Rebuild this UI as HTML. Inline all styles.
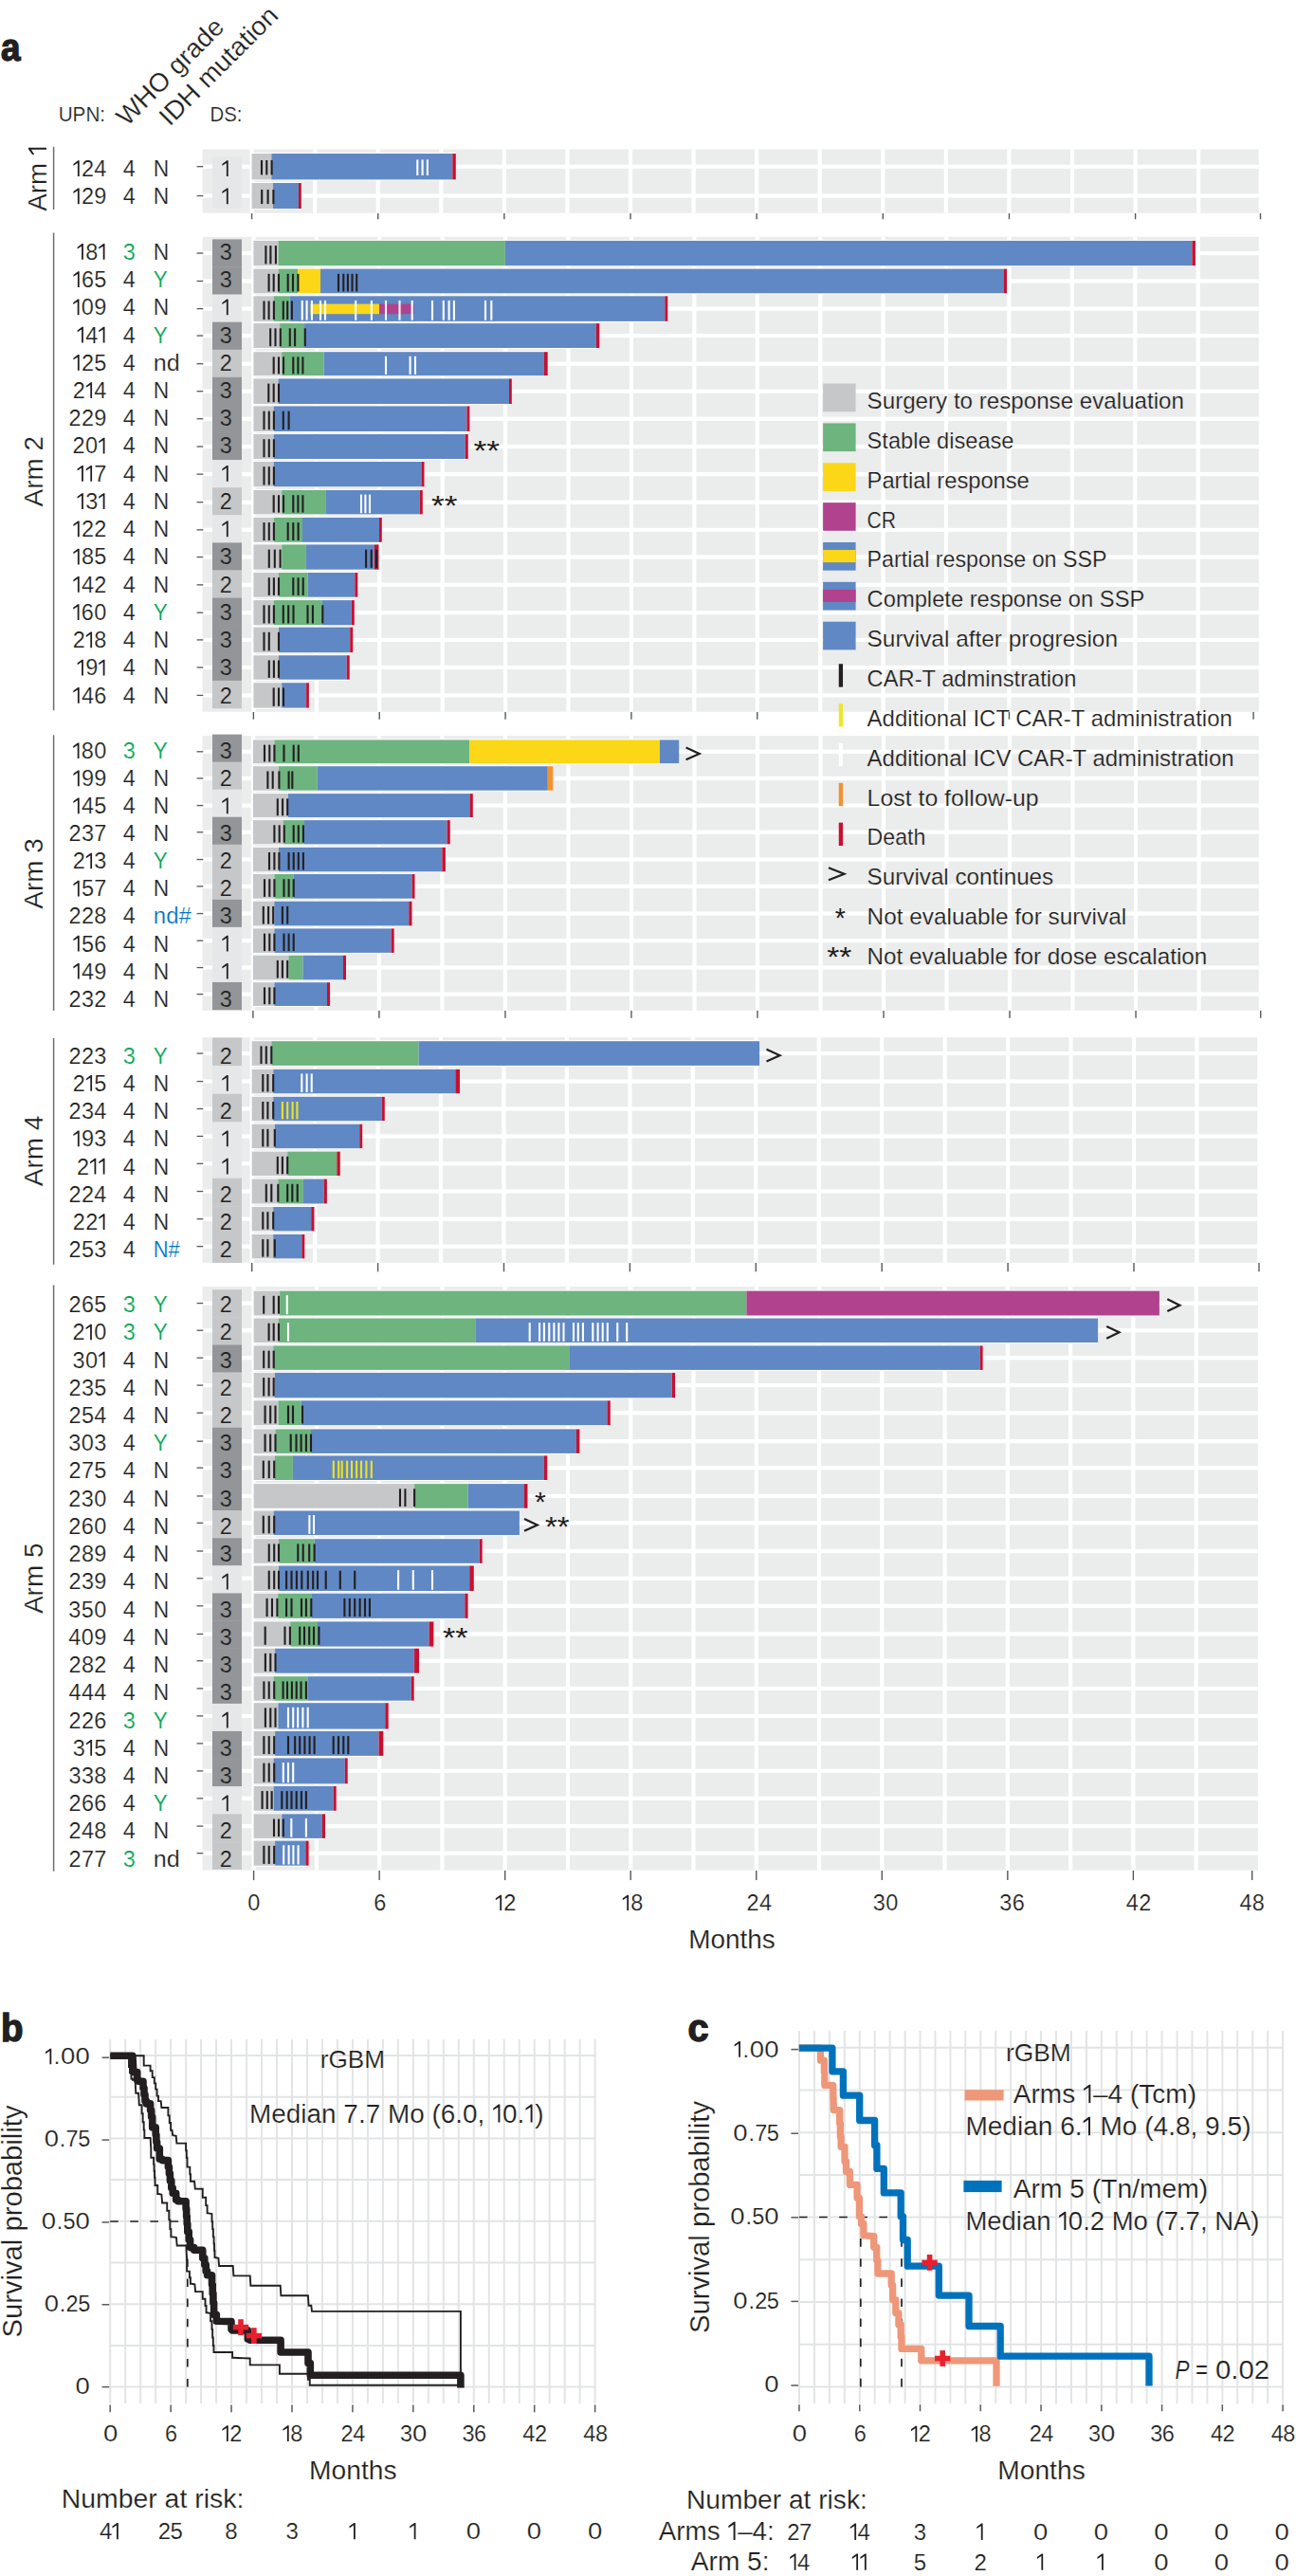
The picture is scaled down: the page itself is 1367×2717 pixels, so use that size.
<!DOCTYPE html><html><head><meta charset="utf-8"><style>html,body{margin:0;padding:0;background:#fff;}svg{display:block;} text{stroke:#fff;stroke-width:.2px} .g{stroke:#EBECEC} .d1{stroke:#E6E7E8} .d2{stroke:#C6C7C9} .d3{stroke:#939598} .n{stroke:none}</style></head><body>
<svg width="1367" height="2717" viewBox="0 0 1367 2717" font-family='"Liberation Sans", sans-serif' font-size="22" fill="#231F20">
<rect width="1367" height="2717" fill="#fff"/>
<text x="1" y="64" textLength="20.5" lengthAdjust="spacingAndGlyphs" font-weight="bold" font-size="40" style="stroke:#231F20;stroke-width:1.4px">a</text>
<text x="61.7" y="127.9" textLength="49.4" lengthAdjust="spacingAndGlyphs" font-size="21.5">UPN:</text>
<text x="221.5" y="127.9" textLength="34" lengthAdjust="spacingAndGlyphs" font-size="21.5">DS:</text>
<text x="134" y="134" font-size="27.5" transform="rotate(-45 134 134)" textLength="147" lengthAdjust="spacingAndGlyphs">WHO grade</text>
<text x="179" y="134" font-size="27.5" transform="rotate(-45 179 134)" textLength="164" lengthAdjust="spacingAndGlyphs">IDH mutation</text>
<rect x="213.6" y="157.5" width="1114.1" height="67.2" fill="#EBECEC"/>
<rect x="263.5" y="157.5" width="4.2" height="67.2" fill="#fff"/>
<rect x="330.07" y="157.5" width="4.2" height="67.2" fill="#fff"/>
<rect x="396.64" y="157.5" width="4.2" height="67.2" fill="#fff"/>
<rect x="463.21" y="157.5" width="4.2" height="67.2" fill="#fff"/>
<rect x="529.78" y="157.5" width="4.2" height="67.2" fill="#fff"/>
<rect x="596.35" y="157.5" width="4.2" height="67.2" fill="#fff"/>
<rect x="662.92" y="157.5" width="4.2" height="67.2" fill="#fff"/>
<rect x="729.49" y="157.5" width="4.2" height="67.2" fill="#fff"/>
<rect x="796.06" y="157.5" width="4.2" height="67.2" fill="#fff"/>
<rect x="862.63" y="157.5" width="4.2" height="67.2" fill="#fff"/>
<rect x="929.2" y="157.5" width="4.2" height="67.2" fill="#fff"/>
<rect x="995.77" y="157.5" width="4.2" height="67.2" fill="#fff"/>
<rect x="1062.34" y="157.5" width="4.2" height="67.2" fill="#fff"/>
<rect x="1128.91" y="157.5" width="4.2" height="67.2" fill="#fff"/>
<rect x="1195.48" y="157.5" width="4.2" height="67.2" fill="#fff"/>
<rect x="1262.05" y="157.5" width="4.2" height="67.2" fill="#fff"/>
<rect x="213.6" y="173.6" width="1114.1" height="4.2" fill="#fff"/>
<rect x="213.6" y="204.45" width="1114.1" height="4.2" fill="#fff"/>
<rect x="224" y="165.4" width="31" height="54.4" fill="#E6E7E8"/>
<path d="M83.7 186L83.7 169.3L82.3 169.3L77.4 172.9L77.4 174.8L81.9 171.9L81.9 186Z"/>
<text x="92.5" y="186" font-size="23.5" text-anchor="middle">2</text>
<text x="105.9" y="186" font-size="23.5" text-anchor="middle">4</text>
<text x="136.2" y="186" font-size="23.5" text-anchor="middle">4</text>
<text x="161.8" y="186" textLength="16.5" lengthAdjust="spacingAndGlyphs" font-size="23">N</text>
<path d="M240.7 186L240.7 169.3L239.3 169.3L234.4 172.9L234.4 174.8L238.9 171.9L238.9 186Z"/>
<line x1="207.6" y1="175.7" x2="214.3" y2="175.7" stroke="#58595B" stroke-width="1.3"/>
<path d="M83.7 215.2L83.7 198.5L82.3 198.5L77.4 202.1L77.4 204L81.9 201.1L81.9 215.2Z"/>
<text x="92.5" y="215.2" font-size="23.5" text-anchor="middle">2</text>
<text x="105.9" y="215.2" font-size="23.5" text-anchor="middle">9</text>
<text x="136.2" y="215.2" font-size="23.5" text-anchor="middle">4</text>
<text x="161.8" y="215.2" textLength="16.5" lengthAdjust="spacingAndGlyphs" font-size="23">N</text>
<path d="M240.7 215.2L240.7 198.5L239.3 198.5L234.4 202.1L234.4 204L238.9 201.1L238.9 215.2Z"/>
<line x1="207.6" y1="206.55" x2="214.3" y2="206.55" stroke="#58595B" stroke-width="1.3"/>
<g transform="translate(49 188) rotate(-90)">
<text x="-34.75" y="0" font-size="27" textLength="58.66" lengthAdjust="spacingAndGlyphs" xml:space="preserve">Arm </text>
<path d="M32.14 0L32.14 -19.06L30.63 -19.06L24.96 -14.93L24.96 -12.74L30.19 -16.09L30.19 0Z"/>
</g>
<line x1="56.6" y1="154.8" x2="56.6" y2="221" stroke="#6D6E71" stroke-width="1.5"/>
<rect x="265.6" y="161" width="215.2" height="29.4" fill="#fff"/>
<rect x="265.6" y="192" width="52.2" height="29.1" fill="#fff"/>
<rect x="265.6" y="162" width="20.7" height="27.4" fill="#C6C7C9"/>
<rect x="286.3" y="162" width="191" height="27.4" fill="#6088C4"/>
<rect x="477.3" y="162" width="3.5" height="27.4" fill="#C8102E"/>
<line x1="276" y1="169" x2="276" y2="184.4" stroke="#231F20" stroke-width="2.1"/>
<line x1="281.3" y1="169" x2="281.3" y2="184.4" stroke="#231F20" stroke-width="2.1"/>
<line x1="286.6" y1="169" x2="286.6" y2="184.4" stroke="#231F20" stroke-width="2.1"/>
<line x1="440.3" y1="168.4" x2="440.3" y2="185" stroke="#fff" stroke-width="2.1"/>
<line x1="445.6" y1="168.4" x2="445.6" y2="185" stroke="#fff" stroke-width="2.1"/>
<line x1="450.9" y1="168.4" x2="450.9" y2="185" stroke="#fff" stroke-width="2.1"/>
<rect x="265.6" y="193" width="22.4" height="27.1" fill="#C6C7C9"/>
<rect x="288" y="193" width="27" height="27.1" fill="#6088C4"/>
<rect x="315" y="193" width="2.8" height="27.1" fill="#C8102E"/>
<line x1="276.2" y1="200" x2="276.2" y2="215.1" stroke="#231F20" stroke-width="2.1"/>
<line x1="282.6" y1="200" x2="282.6" y2="215.1" stroke="#231F20" stroke-width="2.1"/>
<line x1="288.4" y1="200" x2="288.4" y2="215.1" stroke="#231F20" stroke-width="2.1"/>
<line x1="265.6" y1="225" x2="265.6" y2="231.2" stroke="#58595B" stroke-width="1.4"/>
<line x1="398.74" y1="225" x2="398.74" y2="231.2" stroke="#58595B" stroke-width="1.4"/>
<line x1="531.88" y1="225" x2="531.88" y2="231.2" stroke="#58595B" stroke-width="1.4"/>
<line x1="665.02" y1="225" x2="665.02" y2="231.2" stroke="#58595B" stroke-width="1.4"/>
<line x1="798.16" y1="225" x2="798.16" y2="231.2" stroke="#58595B" stroke-width="1.4"/>
<line x1="931.3" y1="225" x2="931.3" y2="231.2" stroke="#58595B" stroke-width="1.4"/>
<line x1="1064.44" y1="225" x2="1064.44" y2="231.2" stroke="#58595B" stroke-width="1.4"/>
<line x1="1197.58" y1="225" x2="1197.58" y2="231.2" stroke="#58595B" stroke-width="1.4"/>
<line x1="1329.5" y1="225" x2="1329.5" y2="231.2" stroke="#58595B" stroke-width="1.4"/>
<rect x="213.6" y="249.8" width="1114.2" height="500.9" fill="#EBECEC"/>
<rect x="265.3" y="249.8" width="4.2" height="500.9" fill="#fff"/>
<rect x="331.72" y="249.8" width="4.2" height="500.9" fill="#fff"/>
<rect x="398.14" y="249.8" width="4.2" height="500.9" fill="#fff"/>
<rect x="464.56" y="249.8" width="4.2" height="500.9" fill="#fff"/>
<rect x="530.98" y="249.8" width="4.2" height="500.9" fill="#fff"/>
<rect x="597.4" y="249.8" width="4.2" height="500.9" fill="#fff"/>
<rect x="663.82" y="249.8" width="4.2" height="500.9" fill="#fff"/>
<rect x="730.24" y="249.8" width="4.2" height="500.9" fill="#fff"/>
<rect x="796.66" y="249.8" width="4.2" height="500.9" fill="#fff"/>
<rect x="863.08" y="249.8" width="4.2" height="500.9" fill="#fff"/>
<rect x="929.5" y="249.8" width="4.2" height="500.9" fill="#fff"/>
<rect x="995.92" y="249.8" width="4.2" height="500.9" fill="#fff"/>
<rect x="1062.34" y="249.8" width="4.2" height="500.9" fill="#fff"/>
<rect x="1128.76" y="249.8" width="4.2" height="500.9" fill="#fff"/>
<rect x="1195.18" y="249.8" width="4.2" height="500.9" fill="#fff"/>
<rect x="1261.6" y="249.8" width="4.2" height="500.9" fill="#fff"/>
<rect x="213.6" y="264.95" width="1114.2" height="4.2" fill="#fff"/>
<rect x="213.6" y="294.35" width="1114.2" height="4.2" fill="#fff"/>
<rect x="213.6" y="323.5" width="1114.2" height="4.2" fill="#fff"/>
<rect x="213.6" y="351.95" width="1114.2" height="4.2" fill="#fff"/>
<rect x="213.6" y="381.6" width="1114.2" height="4.2" fill="#fff"/>
<rect x="213.6" y="410.6" width="1114.2" height="4.2" fill="#fff"/>
<rect x="213.6" y="439.6" width="1114.2" height="4.2" fill="#fff"/>
<rect x="213.6" y="468.9" width="1114.2" height="4.2" fill="#fff"/>
<rect x="213.6" y="498.05" width="1114.2" height="4.2" fill="#fff"/>
<rect x="213.6" y="527.6" width="1114.2" height="4.2" fill="#fff"/>
<rect x="213.6" y="556.75" width="1114.2" height="4.2" fill="#fff"/>
<rect x="213.6" y="585.45" width="1114.2" height="4.2" fill="#fff"/>
<rect x="213.6" y="614.75" width="1114.2" height="4.2" fill="#fff"/>
<rect x="213.6" y="644.1" width="1114.2" height="4.2" fill="#fff"/>
<rect x="213.6" y="672.8" width="1114.2" height="4.2" fill="#fff"/>
<rect x="213.6" y="701.88" width="1114.2" height="4.2" fill="#fff"/>
<rect x="213.6" y="731.3" width="1114.2" height="4.2" fill="#fff"/>
<rect x="224" y="252.4" width="31" height="29.39" fill="#939598"/>
<rect x="224" y="281.49" width="31" height="29.39" fill="#939598"/>
<rect x="224" y="310.58" width="31" height="29.39" fill="#E6E7E8"/>
<rect x="224" y="339.67" width="31" height="29.39" fill="#939598"/>
<rect x="224" y="368.76" width="31" height="29.39" fill="#C6C7C9"/>
<rect x="224" y="397.85" width="31" height="29.39" fill="#939598"/>
<rect x="224" y="426.94" width="31" height="29.39" fill="#939598"/>
<rect x="224" y="456.03" width="31" height="29.39" fill="#939598"/>
<rect x="224" y="485.12" width="31" height="29.39" fill="#E6E7E8"/>
<rect x="224" y="514.21" width="31" height="29.39" fill="#C6C7C9"/>
<rect x="224" y="543.3" width="31" height="29.39" fill="#E6E7E8"/>
<rect x="224" y="572.39" width="31" height="29.39" fill="#939598"/>
<rect x="224" y="601.48" width="31" height="29.39" fill="#C6C7C9"/>
<rect x="224" y="630.57" width="31" height="29.39" fill="#939598"/>
<rect x="224" y="659.66" width="31" height="29.39" fill="#939598"/>
<rect x="224" y="688.75" width="31" height="29.39" fill="#939598"/>
<rect x="224" y="717.84" width="31" height="29.39" fill="#C6C7C9"/>
<path d="M87.9 273.8L87.9 257.1L86.5 257.1L81.6 260.7L81.6 262.6L86.1 259.7L86.1 273.8Z"/>
<text x="96.7" y="273.8" font-size="23.5" text-anchor="middle">8</text>
<path d="M110.5 273.8L110.5 257.1L109.1 257.1L104.2 260.7L104.2 262.6L108.7 259.7L108.7 273.8Z"/>
<text x="136.2" y="273.8" font-size="23.5" text-anchor="middle" fill="#00A651">3</text>
<text x="161.8" y="273.8" textLength="16.5" lengthAdjust="spacingAndGlyphs" font-size="23">N</text>
<text x="238.2" y="273.8" font-size="23.5" text-anchor="middle" class="d3">3</text>
<line x1="207.6" y1="267.05" x2="214.3" y2="267.05" stroke="#58595B" stroke-width="1.3"/>
<path d="M83.7 303.04L83.7 286.34L82.3 286.34L77.4 289.94L77.4 291.84L81.9 288.94L81.9 303.04Z"/>
<text x="92.5" y="303.04" font-size="23.5" text-anchor="middle">6</text>
<text x="105.9" y="303.04" font-size="23.5" text-anchor="middle">5</text>
<text x="136.2" y="303.04" font-size="23.5" text-anchor="middle">4</text>
<text x="161.8" y="303.04" textLength="15" lengthAdjust="spacingAndGlyphs" fill="#00A651" font-size="23">Y</text>
<text x="238.2" y="303.04" font-size="23.5" text-anchor="middle" class="d3">3</text>
<line x1="207.6" y1="296.45" x2="214.3" y2="296.45" stroke="#58595B" stroke-width="1.3"/>
<path d="M83.5 332.28L83.5 315.58L82.1 315.58L77.2 319.18L77.2 321.08L81.7 318.18L81.7 332.28Z"/>
<text x="92.4" y="332.28" font-size="23.5" text-anchor="middle">0</text>
<text x="105.9" y="332.28" font-size="23.5" text-anchor="middle">9</text>
<text x="136.2" y="332.28" font-size="23.5" text-anchor="middle">4</text>
<text x="161.8" y="332.28" textLength="16.5" lengthAdjust="spacingAndGlyphs" font-size="23">N</text>
<path d="M240.7 332.28L240.7 315.58L239.3 315.58L234.4 319.18L234.4 321.08L238.9 318.18L238.9 332.28Z"/>
<line x1="207.6" y1="325.6" x2="214.3" y2="325.6" stroke="#58595B" stroke-width="1.3"/>
<path d="M87.9 361.52L87.9 344.82L86.5 344.82L81.6 348.42L81.6 350.32L86.1 347.42L86.1 361.52Z"/>
<text x="96.7" y="361.52" font-size="23.5" text-anchor="middle">4</text>
<path d="M110.5 361.52L110.5 344.82L109.1 344.82L104.2 348.42L104.2 350.32L108.7 347.42L108.7 361.52Z"/>
<text x="136.2" y="361.52" font-size="23.5" text-anchor="middle">4</text>
<text x="161.8" y="361.52" textLength="15" lengthAdjust="spacingAndGlyphs" fill="#00A651" font-size="23">Y</text>
<text x="238.2" y="361.52" font-size="23.5" text-anchor="middle" class="d3">3</text>
<line x1="207.6" y1="354.05" x2="214.3" y2="354.05" stroke="#58595B" stroke-width="1.3"/>
<path d="M83.7 390.76L83.7 374.06L82.3 374.06L77.4 377.66L77.4 379.56L81.9 376.66L81.9 390.76Z"/>
<text x="92.5" y="390.76" font-size="23.5" text-anchor="middle">2</text>
<text x="105.9" y="390.76" font-size="23.5" text-anchor="middle">5</text>
<text x="136.2" y="390.76" font-size="23.5" text-anchor="middle">4</text>
<text x="161.8" y="390.76" textLength="28" lengthAdjust="spacingAndGlyphs" font-size="23">nd</text>
<text x="238.2" y="390.76" font-size="23.5" text-anchor="middle" class="d2">2</text>
<line x1="207.6" y1="383.7" x2="214.3" y2="383.7" stroke="#58595B" stroke-width="1.3"/>
<text x="83.3" y="420" font-size="23.5" text-anchor="middle">2</text>
<path d="M97.1 420L97.1 403.3L95.7 403.3L90.8 406.9L90.8 408.8L95.3 405.9L95.3 420Z"/>
<text x="105.9" y="420" font-size="23.5" text-anchor="middle">4</text>
<text x="136.2" y="420" font-size="23.5" text-anchor="middle">4</text>
<text x="161.8" y="420" textLength="16.5" lengthAdjust="spacingAndGlyphs" font-size="23">N</text>
<text x="238.2" y="420" font-size="23.5" text-anchor="middle" class="d3">3</text>
<line x1="207.6" y1="412.7" x2="214.3" y2="412.7" stroke="#58595B" stroke-width="1.3"/>
<text x="79.1" y="449.24" font-size="23.5" text-anchor="middle">2</text>
<text x="92.5" y="449.24" font-size="23.5" text-anchor="middle">2</text>
<text x="105.9" y="449.24" font-size="23.5" text-anchor="middle">9</text>
<text x="136.2" y="449.24" font-size="23.5" text-anchor="middle">4</text>
<text x="161.8" y="449.24" textLength="16.5" lengthAdjust="spacingAndGlyphs" font-size="23">N</text>
<text x="238.2" y="449.24" font-size="23.5" text-anchor="middle" class="d3">3</text>
<line x1="207.6" y1="441.7" x2="214.3" y2="441.7" stroke="#58595B" stroke-width="1.3"/>
<text x="83.1" y="478.48" font-size="23.5" text-anchor="middle">2</text>
<text x="96.6" y="478.48" font-size="23.5" text-anchor="middle">0</text>
<path d="M110.5 478.48L110.5 461.78L109.1 461.78L104.2 465.38L104.2 467.28L108.7 464.38L108.7 478.48Z"/>
<text x="136.2" y="478.48" font-size="23.5" text-anchor="middle">4</text>
<text x="161.8" y="478.48" textLength="16.5" lengthAdjust="spacingAndGlyphs" font-size="23">N</text>
<text x="238.2" y="478.48" font-size="23.5" text-anchor="middle" class="d3">3</text>
<line x1="207.6" y1="471" x2="214.3" y2="471" stroke="#58595B" stroke-width="1.3"/>
<path d="M87.9 507.72L87.9 491.02L86.5 491.02L81.6 494.62L81.6 496.52L86.1 493.62L86.1 507.72Z"/>
<path d="M97.1 507.72L97.1 491.02L95.7 491.02L90.8 494.62L90.8 496.52L95.3 493.62L95.3 507.72Z"/>
<text x="105.9" y="507.72" font-size="23.5" text-anchor="middle">7</text>
<text x="136.2" y="507.72" font-size="23.5" text-anchor="middle">4</text>
<text x="161.8" y="507.72" textLength="16.5" lengthAdjust="spacingAndGlyphs" font-size="23">N</text>
<path d="M240.7 507.72L240.7 491.02L239.3 491.02L234.4 494.62L234.4 496.52L238.9 493.62L238.9 507.72Z"/>
<line x1="207.6" y1="500.15" x2="214.3" y2="500.15" stroke="#58595B" stroke-width="1.3"/>
<path d="M87.9 536.96L87.9 520.26L86.5 520.26L81.6 523.86L81.6 525.76L86.1 522.86L86.1 536.96Z"/>
<text x="96.7" y="536.96" font-size="23.5" text-anchor="middle">3</text>
<path d="M110.5 536.96L110.5 520.26L109.1 520.26L104.2 523.86L104.2 525.76L108.7 522.86L108.7 536.96Z"/>
<text x="136.2" y="536.96" font-size="23.5" text-anchor="middle">4</text>
<text x="161.8" y="536.96" textLength="16.5" lengthAdjust="spacingAndGlyphs" font-size="23">N</text>
<text x="238.2" y="536.96" font-size="23.5" text-anchor="middle" class="d2">2</text>
<line x1="207.6" y1="529.7" x2="214.3" y2="529.7" stroke="#58595B" stroke-width="1.3"/>
<path d="M83.7 566.2L83.7 549.5L82.3 549.5L77.4 553.1L77.4 555L81.9 552.1L81.9 566.2Z"/>
<text x="92.5" y="566.2" font-size="23.5" text-anchor="middle">2</text>
<text x="105.9" y="566.2" font-size="23.5" text-anchor="middle">2</text>
<text x="136.2" y="566.2" font-size="23.5" text-anchor="middle">4</text>
<text x="161.8" y="566.2" textLength="16.5" lengthAdjust="spacingAndGlyphs" font-size="23">N</text>
<path d="M240.7 566.2L240.7 549.5L239.3 549.5L234.4 553.1L234.4 555L238.9 552.1L238.9 566.2Z"/>
<line x1="207.6" y1="558.85" x2="214.3" y2="558.85" stroke="#58595B" stroke-width="1.3"/>
<path d="M83.7 595.44L83.7 578.74L82.3 578.74L77.4 582.34L77.4 584.24L81.9 581.34L81.9 595.44Z"/>
<text x="92.5" y="595.44" font-size="23.5" text-anchor="middle">8</text>
<text x="105.9" y="595.44" font-size="23.5" text-anchor="middle">5</text>
<text x="136.2" y="595.44" font-size="23.5" text-anchor="middle">4</text>
<text x="161.8" y="595.44" textLength="16.5" lengthAdjust="spacingAndGlyphs" font-size="23">N</text>
<text x="238.2" y="595.44" font-size="23.5" text-anchor="middle" class="d3">3</text>
<line x1="207.6" y1="587.55" x2="214.3" y2="587.55" stroke="#58595B" stroke-width="1.3"/>
<path d="M83.7 624.68L83.7 607.98L82.3 607.98L77.4 611.58L77.4 613.48L81.9 610.58L81.9 624.68Z"/>
<text x="92.5" y="624.68" font-size="23.5" text-anchor="middle">4</text>
<text x="105.9" y="624.68" font-size="23.5" text-anchor="middle">2</text>
<text x="136.2" y="624.68" font-size="23.5" text-anchor="middle">4</text>
<text x="161.8" y="624.68" textLength="16.5" lengthAdjust="spacingAndGlyphs" font-size="23">N</text>
<text x="238.2" y="624.68" font-size="23.5" text-anchor="middle" class="d2">2</text>
<line x1="207.6" y1="616.85" x2="214.3" y2="616.85" stroke="#58595B" stroke-width="1.3"/>
<path d="M83.5 653.92L83.5 637.22L82.1 637.22L77.2 640.82L77.2 642.72L81.7 639.82L81.7 653.92Z"/>
<text x="92.3" y="653.92" font-size="23.5" text-anchor="middle">6</text>
<text x="105.8" y="653.92" font-size="23.5" text-anchor="middle">0</text>
<text x="136.2" y="653.92" font-size="23.5" text-anchor="middle">4</text>
<text x="161.8" y="653.92" textLength="15" lengthAdjust="spacingAndGlyphs" fill="#00A651" font-size="23">Y</text>
<text x="238.2" y="653.92" font-size="23.5" text-anchor="middle" class="d3">3</text>
<line x1="207.6" y1="646.2" x2="214.3" y2="646.2" stroke="#58595B" stroke-width="1.3"/>
<text x="83.3" y="683.16" font-size="23.5" text-anchor="middle">2</text>
<path d="M97.1 683.16L97.1 666.46L95.7 666.46L90.8 670.06L90.8 671.96L95.3 669.06L95.3 683.16Z"/>
<text x="105.9" y="683.16" font-size="23.5" text-anchor="middle">8</text>
<text x="136.2" y="683.16" font-size="23.5" text-anchor="middle">4</text>
<text x="161.8" y="683.16" textLength="16.5" lengthAdjust="spacingAndGlyphs" font-size="23">N</text>
<text x="238.2" y="683.16" font-size="23.5" text-anchor="middle" class="d3">3</text>
<line x1="207.6" y1="674.9" x2="214.3" y2="674.9" stroke="#58595B" stroke-width="1.3"/>
<path d="M87.9 712.4L87.9 695.7L86.5 695.7L81.6 699.3L81.6 701.2L86.1 698.3L86.1 712.4Z"/>
<text x="96.7" y="712.4" font-size="23.5" text-anchor="middle">9</text>
<path d="M110.5 712.4L110.5 695.7L109.1 695.7L104.2 699.3L104.2 701.2L108.7 698.3L108.7 712.4Z"/>
<text x="136.2" y="712.4" font-size="23.5" text-anchor="middle">4</text>
<text x="161.8" y="712.4" textLength="16.5" lengthAdjust="spacingAndGlyphs" font-size="23">N</text>
<text x="238.2" y="712.4" font-size="23.5" text-anchor="middle" class="d3">3</text>
<line x1="207.6" y1="703.98" x2="214.3" y2="703.98" stroke="#58595B" stroke-width="1.3"/>
<path d="M83.7 741.64L83.7 724.94L82.3 724.94L77.4 728.54L77.4 730.44L81.9 727.54L81.9 741.64Z"/>
<text x="92.5" y="741.64" font-size="23.5" text-anchor="middle">4</text>
<text x="105.9" y="741.64" font-size="23.5" text-anchor="middle">6</text>
<text x="136.2" y="741.64" font-size="23.5" text-anchor="middle">4</text>
<text x="161.8" y="741.64" textLength="16.5" lengthAdjust="spacingAndGlyphs" font-size="23">N</text>
<text x="238.2" y="741.64" font-size="23.5" text-anchor="middle" class="d2">2</text>
<line x1="207.6" y1="733.4" x2="214.3" y2="733.4" stroke="#58595B" stroke-width="1.3"/>
<g transform="translate(45.4 497.2) rotate(-90)">
<text x="-37.25" y="0" font-size="27" textLength="74.5" lengthAdjust="spacingAndGlyphs" xml:space="preserve">Arm 2</text>
</g>
<line x1="56.6" y1="245.5" x2="56.6" y2="749.3" stroke="#6D6E71" stroke-width="1.5"/>
<rect x="267.4" y="252.9" width="993.5" height="28.3" fill="#fff"/>
<rect x="267.4" y="282.6" width="794.6" height="27.7" fill="#fff"/>
<rect x="267.4" y="311.3" width="436.9" height="28.6" fill="#fff"/>
<rect x="267.4" y="340.1" width="364.9" height="27.9" fill="#fff"/>
<rect x="267.4" y="370.2" width="310.3" height="27" fill="#fff"/>
<rect x="267.4" y="398.4" width="272.4" height="28.6" fill="#fff"/>
<rect x="267.4" y="427.4" width="228" height="28.6" fill="#fff"/>
<rect x="267.4" y="457" width="226.35" height="28" fill="#fff"/>
<rect x="267.4" y="486" width="180.1" height="28.3" fill="#fff"/>
<rect x="267.4" y="516" width="178.4" height="27.4" fill="#fff"/>
<rect x="267.4" y="544.9" width="135.4" height="27.9" fill="#fff"/>
<rect x="267.4" y="573.4" width="132.1" height="28.3" fill="#fff"/>
<rect x="267.4" y="603" width="109.9" height="27.7" fill="#fff"/>
<rect x="267.4" y="632.1" width="106.4" height="28.2" fill="#fff"/>
<rect x="267.4" y="660.6" width="104.8" height="28.6" fill="#fff"/>
<rect x="267.4" y="690.25" width="101.35" height="27.45" fill="#fff"/>
<rect x="267.4" y="719.2" width="58.5" height="28.4" fill="#fff"/>
<rect x="267.4" y="253.9" width="26.1" height="26.3" fill="#C6C7C9"/>
<rect x="293.5" y="253.9" width="239.4" height="26.3" fill="#6DB47E"/>
<rect x="532.9" y="253.9" width="724.5" height="26.3" fill="#6088C4"/>
<rect x="1257.4" y="253.9" width="3.5" height="26.3" fill="#C8102E"/>
<line x1="280.4" y1="259.1" x2="280.4" y2="278.4" stroke="#231F20" stroke-width="2.1"/>
<line x1="285.4" y1="259.1" x2="285.4" y2="278.4" stroke="#231F20" stroke-width="2.1"/>
<line x1="290.9" y1="259.1" x2="290.9" y2="278.4" stroke="#231F20" stroke-width="2.1"/>
<rect x="267.4" y="283.6" width="26.1" height="25.7" fill="#C6C7C9"/>
<rect x="293.5" y="283.6" width="20.6" height="25.7" fill="#6DB47E"/>
<rect x="314.1" y="283.6" width="23.9" height="25.7" fill="#FBD717"/>
<rect x="338" y="283.6" width="721" height="25.7" fill="#6088C4"/>
<rect x="1059" y="283.6" width="3" height="25.7" fill="#C8102E"/>
<line x1="283.6" y1="288.8" x2="283.6" y2="307.5" stroke="#231F20" stroke-width="2.1"/>
<line x1="288.7" y1="288.8" x2="288.7" y2="307.5" stroke="#231F20" stroke-width="2.1"/>
<line x1="294" y1="288.8" x2="294" y2="307.5" stroke="#231F20" stroke-width="2.1"/>
<line x1="303.7" y1="288.8" x2="303.7" y2="307.5" stroke="#231F20" stroke-width="2.1"/>
<line x1="309" y1="288.8" x2="309" y2="307.5" stroke="#231F20" stroke-width="2.1"/>
<line x1="314.4" y1="288.8" x2="314.4" y2="307.5" stroke="#231F20" stroke-width="2.1"/>
<line x1="357" y1="288.8" x2="357" y2="307.5" stroke="#231F20" stroke-width="2.1"/>
<line x1="362.3" y1="288.8" x2="362.3" y2="307.5" stroke="#231F20" stroke-width="2.1"/>
<line x1="366.9" y1="288.8" x2="366.9" y2="307.5" stroke="#231F20" stroke-width="2.1"/>
<line x1="371.5" y1="288.8" x2="371.5" y2="307.5" stroke="#231F20" stroke-width="2.1"/>
<line x1="376.2" y1="288.8" x2="376.2" y2="307.5" stroke="#231F20" stroke-width="2.1"/>
<rect x="267.4" y="312.3" width="21.3" height="26.6" fill="#C6C7C9"/>
<rect x="288.7" y="312.3" width="16.9" height="26.6" fill="#6DB47E"/>
<rect x="305.6" y="312.3" width="395.7" height="26.6" fill="#6088C4"/>
<rect x="327.5" y="320.55" width="72.5" height="10.64" fill="#FBD717"/>
<rect x="400" y="320.55" width="36.6" height="10.64" fill="#B1428E"/>
<rect x="701.3" y="312.3" width="3" height="26.6" fill="#C8102E"/>
<line x1="278.5" y1="317.5" x2="278.5" y2="337.1" stroke="#231F20" stroke-width="2.1"/>
<line x1="283.6" y1="317.5" x2="283.6" y2="337.1" stroke="#231F20" stroke-width="2.1"/>
<line x1="288.9" y1="317.5" x2="288.9" y2="337.1" stroke="#231F20" stroke-width="2.1"/>
<line x1="298.8" y1="317.5" x2="298.8" y2="337.1" stroke="#231F20" stroke-width="2.1"/>
<line x1="303.2" y1="317.5" x2="303.2" y2="337.1" stroke="#231F20" stroke-width="2.1"/>
<line x1="307.9" y1="317.5" x2="307.9" y2="337.1" stroke="#231F20" stroke-width="2.1"/>
<line x1="318.75" y1="316.9" x2="318.75" y2="337.7" stroke="#fff" stroke-width="2.1"/>
<line x1="323.6" y1="316.9" x2="323.6" y2="337.7" stroke="#fff" stroke-width="2.1"/>
<line x1="328.9" y1="316.9" x2="328.9" y2="337.7" stroke="#fff" stroke-width="2.1"/>
<line x1="338" y1="316.9" x2="338" y2="337.7" stroke="#fff" stroke-width="2.1"/>
<line x1="343" y1="316.9" x2="343" y2="337.7" stroke="#fff" stroke-width="2.1"/>
<line x1="375.2" y1="316.9" x2="375.2" y2="337.7" stroke="#fff" stroke-width="2.1"/>
<line x1="391.9" y1="316.9" x2="391.9" y2="337.7" stroke="#fff" stroke-width="2.1"/>
<line x1="407" y1="316.9" x2="407" y2="337.7" stroke="#fff" stroke-width="2.1"/>
<line x1="421.5" y1="316.9" x2="421.5" y2="337.7" stroke="#fff" stroke-width="2.1"/>
<line x1="434.7" y1="316.9" x2="434.7" y2="337.7" stroke="#fff" stroke-width="2.1"/>
<line x1="456" y1="316.9" x2="456" y2="337.7" stroke="#fff" stroke-width="2.1"/>
<line x1="467.8" y1="316.9" x2="467.8" y2="337.7" stroke="#fff" stroke-width="2.1"/>
<line x1="473.6" y1="316.9" x2="473.6" y2="337.7" stroke="#fff" stroke-width="2.1"/>
<line x1="478.9" y1="316.9" x2="478.9" y2="337.7" stroke="#fff" stroke-width="2.1"/>
<line x1="512" y1="316.9" x2="512" y2="337.7" stroke="#fff" stroke-width="2.1"/>
<line x1="518.3" y1="316.9" x2="518.3" y2="337.7" stroke="#fff" stroke-width="2.1"/>
<rect x="267.4" y="341.1" width="27.7" height="25.9" fill="#C6C7C9"/>
<rect x="295.1" y="341.1" width="26" height="25.9" fill="#6DB47E"/>
<rect x="321.1" y="341.1" width="307.9" height="25.9" fill="#6088C4"/>
<rect x="629" y="341.1" width="3.3" height="25.9" fill="#C8102E"/>
<line x1="285.2" y1="346.3" x2="285.2" y2="365.2" stroke="#231F20" stroke-width="2.1"/>
<line x1="290.5" y1="346.3" x2="290.5" y2="365.2" stroke="#231F20" stroke-width="2.1"/>
<line x1="295.8" y1="346.3" x2="295.8" y2="365.2" stroke="#231F20" stroke-width="2.1"/>
<line x1="305.8" y1="346.3" x2="305.8" y2="365.2" stroke="#231F20" stroke-width="2.1"/>
<line x1="311.1" y1="346.3" x2="311.1" y2="365.2" stroke="#231F20" stroke-width="2.1"/>
<line x1="321.8" y1="346.3" x2="321.8" y2="365.2" stroke="#231F20" stroke-width="2.1"/>
<rect x="267.4" y="371.2" width="29.8" height="25" fill="#C6C7C9"/>
<rect x="297.2" y="371.2" width="44.5" height="25" fill="#6DB47E"/>
<rect x="341.7" y="371.2" width="232.3" height="25" fill="#6088C4"/>
<rect x="574" y="371.2" width="3.7" height="25" fill="#C8102E"/>
<line x1="288.7" y1="376.4" x2="288.7" y2="394.4" stroke="#231F20" stroke-width="2.1"/>
<line x1="294" y1="376.4" x2="294" y2="394.4" stroke="#231F20" stroke-width="2.1"/>
<line x1="299" y1="376.4" x2="299" y2="394.4" stroke="#231F20" stroke-width="2.1"/>
<line x1="309.3" y1="376.4" x2="309.3" y2="394.4" stroke="#231F20" stroke-width="2.1"/>
<line x1="314.4" y1="376.4" x2="314.4" y2="394.4" stroke="#231F20" stroke-width="2.1"/>
<line x1="319.4" y1="376.4" x2="319.4" y2="394.4" stroke="#231F20" stroke-width="2.1"/>
<line x1="407" y1="375.8" x2="407" y2="395" stroke="#fff" stroke-width="2.1"/>
<line x1="432.6" y1="375.8" x2="432.6" y2="395" stroke="#fff" stroke-width="2.1"/>
<line x1="438" y1="375.8" x2="438" y2="395" stroke="#fff" stroke-width="2.1"/>
<rect x="267.4" y="399.4" width="26.1" height="26.6" fill="#C6C7C9"/>
<rect x="293.5" y="399.4" width="243.5" height="26.6" fill="#6088C4"/>
<rect x="537" y="399.4" width="2.8" height="26.6" fill="#C8102E"/>
<line x1="283.3" y1="404.6" x2="283.3" y2="424.2" stroke="#231F20" stroke-width="2.1"/>
<line x1="288.7" y1="404.6" x2="288.7" y2="424.2" stroke="#231F20" stroke-width="2.1"/>
<line x1="294" y1="404.6" x2="294" y2="424.2" stroke="#231F20" stroke-width="2.1"/>
<rect x="267.4" y="428.4" width="21.3" height="26.6" fill="#C6C7C9"/>
<rect x="288.7" y="428.4" width="203.7" height="26.6" fill="#6088C4"/>
<rect x="492.4" y="428.4" width="3" height="26.6" fill="#C8102E"/>
<line x1="278.5" y1="433.6" x2="278.5" y2="453.2" stroke="#231F20" stroke-width="2.1"/>
<line x1="283.8" y1="433.6" x2="283.8" y2="453.2" stroke="#231F20" stroke-width="2.1"/>
<line x1="288.9" y1="433.6" x2="288.9" y2="453.2" stroke="#231F20" stroke-width="2.1"/>
<line x1="298.8" y1="433.6" x2="298.8" y2="453.2" stroke="#231F20" stroke-width="2.1"/>
<line x1="304.6" y1="433.6" x2="304.6" y2="453.2" stroke="#231F20" stroke-width="2.1"/>
<rect x="267.4" y="458" width="21.3" height="26" fill="#C6C7C9"/>
<rect x="288.7" y="458" width="202" height="26" fill="#6088C4"/>
<rect x="490.7" y="458" width="3.05" height="26" fill="#C8102E"/>
<line x1="278.5" y1="463.2" x2="278.5" y2="482.2" stroke="#231F20" stroke-width="2.1"/>
<line x1="283.8" y1="463.2" x2="283.8" y2="482.2" stroke="#231F20" stroke-width="2.1"/>
<line x1="288.9" y1="463.2" x2="288.9" y2="482.2" stroke="#231F20" stroke-width="2.1"/>
<text x="513.3" y="484.5" class="n" text-anchor="middle" textLength="27.6" lengthAdjust="spacingAndGlyphs" font-size="30">**</text>
<rect x="267.4" y="487" width="21.3" height="26.3" fill="#C6C7C9"/>
<rect x="288.7" y="487" width="155.7" height="26.3" fill="#6088C4"/>
<rect x="444.4" y="487" width="3.1" height="26.3" fill="#C8102E"/>
<line x1="278.5" y1="492.2" x2="278.5" y2="511.5" stroke="#231F20" stroke-width="2.1"/>
<line x1="283.8" y1="492.2" x2="283.8" y2="511.5" stroke="#231F20" stroke-width="2.1"/>
<line x1="288.9" y1="492.2" x2="288.9" y2="511.5" stroke="#231F20" stroke-width="2.1"/>
<rect x="267.4" y="517" width="29.8" height="25.4" fill="#C6C7C9"/>
<rect x="297.2" y="517" width="46.1" height="25.4" fill="#6DB47E"/>
<rect x="343.3" y="517" width="99.3" height="25.4" fill="#6088C4"/>
<rect x="442.6" y="517" width="3.2" height="25.4" fill="#C8102E"/>
<line x1="288.7" y1="522.2" x2="288.7" y2="540.6" stroke="#231F20" stroke-width="2.1"/>
<line x1="294" y1="522.2" x2="294" y2="540.6" stroke="#231F20" stroke-width="2.1"/>
<line x1="299" y1="522.2" x2="299" y2="540.6" stroke="#231F20" stroke-width="2.1"/>
<line x1="309.3" y1="522.2" x2="309.3" y2="540.6" stroke="#231F20" stroke-width="2.1"/>
<line x1="314.4" y1="522.2" x2="314.4" y2="540.6" stroke="#231F20" stroke-width="2.1"/>
<line x1="319.4" y1="522.2" x2="319.4" y2="540.6" stroke="#231F20" stroke-width="2.1"/>
<line x1="381" y1="521.6" x2="381" y2="541.2" stroke="#fff" stroke-width="2.1"/>
<line x1="385.4" y1="521.6" x2="385.4" y2="541.2" stroke="#fff" stroke-width="2.1"/>
<line x1="390" y1="521.6" x2="390" y2="541.2" stroke="#fff" stroke-width="2.1"/>
<text x="468.8" y="543.2" class="n" text-anchor="middle" textLength="27.4" lengthAdjust="spacingAndGlyphs" font-size="30">**</text>
<rect x="267.4" y="545.9" width="21.3" height="25.9" fill="#C6C7C9"/>
<rect x="288.7" y="545.9" width="30.3" height="25.9" fill="#6DB47E"/>
<rect x="319" y="545.9" width="81" height="25.9" fill="#6088C4"/>
<rect x="400" y="545.9" width="2.8" height="25.9" fill="#C8102E"/>
<line x1="278.5" y1="551.1" x2="278.5" y2="570" stroke="#231F20" stroke-width="2.1"/>
<line x1="283.8" y1="551.1" x2="283.8" y2="570" stroke="#231F20" stroke-width="2.1"/>
<line x1="288.9" y1="551.1" x2="288.9" y2="570" stroke="#231F20" stroke-width="2.1"/>
<line x1="303.7" y1="551.1" x2="303.7" y2="570" stroke="#231F20" stroke-width="2.1"/>
<line x1="309.3" y1="551.1" x2="309.3" y2="570" stroke="#231F20" stroke-width="2.1"/>
<line x1="314.6" y1="551.1" x2="314.6" y2="570" stroke="#231F20" stroke-width="2.1"/>
<rect x="267.4" y="574.4" width="29.8" height="26.3" fill="#C6C7C9"/>
<rect x="297.2" y="574.4" width="25.7" height="26.3" fill="#6DB47E"/>
<rect x="322.9" y="574.4" width="72" height="26.3" fill="#6088C4"/>
<rect x="394.9" y="574.4" width="4.6" height="26.3" fill="#C8102E"/>
<line x1="283.8" y1="579.6" x2="283.8" y2="598.9" stroke="#231F20" stroke-width="2.1"/>
<line x1="289.8" y1="579.6" x2="289.8" y2="598.9" stroke="#231F20" stroke-width="2.1"/>
<line x1="295.6" y1="579.6" x2="295.6" y2="598.9" stroke="#231F20" stroke-width="2.1"/>
<line x1="386.1" y1="579.6" x2="386.1" y2="598.9" stroke="#231F20" stroke-width="2.1"/>
<line x1="391.7" y1="579.6" x2="391.7" y2="598.9" stroke="#231F20" stroke-width="2.1"/>
<line x1="397" y1="579.6" x2="397" y2="598.9" stroke="#231F20" stroke-width="2.1"/>
<rect x="267.4" y="604" width="26.6" height="25.7" fill="#C6C7C9"/>
<rect x="294" y="604" width="30.5" height="25.7" fill="#6DB47E"/>
<rect x="324.5" y="604" width="49.8" height="25.7" fill="#6088C4"/>
<rect x="374.3" y="604" width="3" height="25.7" fill="#C8102E"/>
<line x1="283.8" y1="609.2" x2="283.8" y2="627.9" stroke="#231F20" stroke-width="2.1"/>
<line x1="288.9" y1="609.2" x2="288.9" y2="627.9" stroke="#231F20" stroke-width="2.1"/>
<line x1="294" y1="609.2" x2="294" y2="627.9" stroke="#231F20" stroke-width="2.1"/>
<line x1="309.3" y1="609.2" x2="309.3" y2="627.9" stroke="#231F20" stroke-width="2.1"/>
<line x1="314.6" y1="609.2" x2="314.6" y2="627.9" stroke="#231F20" stroke-width="2.1"/>
<line x1="319.7" y1="609.2" x2="319.7" y2="627.9" stroke="#231F20" stroke-width="2.1"/>
<rect x="267.4" y="633.1" width="21.3" height="26.2" fill="#C6C7C9"/>
<rect x="288.7" y="633.1" width="51.1" height="26.2" fill="#6DB47E"/>
<rect x="339.8" y="633.1" width="31" height="26.2" fill="#6088C4"/>
<rect x="370.8" y="633.1" width="3" height="26.2" fill="#C8102E"/>
<line x1="278.5" y1="638.3" x2="278.5" y2="657.5" stroke="#231F20" stroke-width="2.1"/>
<line x1="283.8" y1="638.3" x2="283.8" y2="657.5" stroke="#231F20" stroke-width="2.1"/>
<line x1="288.9" y1="638.3" x2="288.9" y2="657.5" stroke="#231F20" stroke-width="2.1"/>
<line x1="298.8" y1="638.3" x2="298.8" y2="657.5" stroke="#231F20" stroke-width="2.1"/>
<line x1="304.2" y1="638.3" x2="304.2" y2="657.5" stroke="#231F20" stroke-width="2.1"/>
<line x1="309.5" y1="638.3" x2="309.5" y2="657.5" stroke="#231F20" stroke-width="2.1"/>
<line x1="324.5" y1="638.3" x2="324.5" y2="657.5" stroke="#231F20" stroke-width="2.1"/>
<line x1="329.9" y1="638.3" x2="329.9" y2="657.5" stroke="#231F20" stroke-width="2.1"/>
<line x1="340.3" y1="638.3" x2="340.3" y2="657.5" stroke="#231F20" stroke-width="2.1"/>
<rect x="267.4" y="661.6" width="26.6" height="26.6" fill="#C6C7C9"/>
<rect x="294" y="661.6" width="75.2" height="26.6" fill="#6088C4"/>
<rect x="369.2" y="661.6" width="3" height="26.6" fill="#C8102E"/>
<line x1="278.5" y1="666.8" x2="278.5" y2="686.4" stroke="#231F20" stroke-width="2.1"/>
<line x1="283.8" y1="666.8" x2="283.8" y2="686.4" stroke="#231F20" stroke-width="2.1"/>
<line x1="294" y1="666.8" x2="294" y2="686.4" stroke="#231F20" stroke-width="2.1"/>
<rect x="267.4" y="691.25" width="26.6" height="25.45" fill="#C6C7C9"/>
<rect x="294" y="691.25" width="71.7" height="25.45" fill="#6088C4"/>
<rect x="365.7" y="691.25" width="3.05" height="25.45" fill="#C8102E"/>
<line x1="283.8" y1="696.45" x2="283.8" y2="714.9" stroke="#231F20" stroke-width="2.1"/>
<line x1="288.9" y1="696.45" x2="288.9" y2="714.9" stroke="#231F20" stroke-width="2.1"/>
<line x1="294" y1="696.45" x2="294" y2="714.9" stroke="#231F20" stroke-width="2.1"/>
<rect x="267.4" y="720.2" width="29.8" height="26.4" fill="#C6C7C9"/>
<rect x="297.2" y="720.2" width="25.9" height="26.4" fill="#6088C4"/>
<rect x="323.1" y="720.2" width="2.8" height="26.4" fill="#C8102E"/>
<line x1="288.7" y1="725.4" x2="288.7" y2="744.8" stroke="#231F20" stroke-width="2.1"/>
<line x1="294" y1="725.4" x2="294" y2="744.8" stroke="#231F20" stroke-width="2.1"/>
<line x1="299" y1="725.4" x2="299" y2="744.8" stroke="#231F20" stroke-width="2.1"/>
<line x1="267.4" y1="751" x2="267.4" y2="758.7" stroke="#58595B" stroke-width="1.4"/>
<line x1="400.24" y1="751" x2="400.24" y2="758.7" stroke="#58595B" stroke-width="1.4"/>
<line x1="533.08" y1="751" x2="533.08" y2="758.7" stroke="#58595B" stroke-width="1.4"/>
<line x1="665.92" y1="751" x2="665.92" y2="758.7" stroke="#58595B" stroke-width="1.4"/>
<line x1="798.76" y1="751" x2="798.76" y2="758.7" stroke="#58595B" stroke-width="1.4"/>
<line x1="1064.44" y1="751" x2="1064.44" y2="758.7" stroke="#58595B" stroke-width="1.4"/>
<line x1="1322.1" y1="751" x2="1322.1" y2="758.7" stroke="#58595B" stroke-width="1.4"/>
<rect x="213.6" y="776.1" width="1114.2" height="289.7" fill="#EBECEC"/>
<rect x="264.8" y="776.1" width="4.2" height="289.7" fill="#fff"/>
<rect x="331.31" y="776.1" width="4.2" height="289.7" fill="#fff"/>
<rect x="397.82" y="776.1" width="4.2" height="289.7" fill="#fff"/>
<rect x="464.33" y="776.1" width="4.2" height="289.7" fill="#fff"/>
<rect x="530.84" y="776.1" width="4.2" height="289.7" fill="#fff"/>
<rect x="597.35" y="776.1" width="4.2" height="289.7" fill="#fff"/>
<rect x="663.86" y="776.1" width="4.2" height="289.7" fill="#fff"/>
<rect x="730.37" y="776.1" width="4.2" height="289.7" fill="#fff"/>
<rect x="796.88" y="776.1" width="4.2" height="289.7" fill="#fff"/>
<rect x="863.39" y="776.1" width="4.2" height="289.7" fill="#fff"/>
<rect x="929.9" y="776.1" width="4.2" height="289.7" fill="#fff"/>
<rect x="996.41" y="776.1" width="4.2" height="289.7" fill="#fff"/>
<rect x="1062.92" y="776.1" width="4.2" height="289.7" fill="#fff"/>
<rect x="1129.43" y="776.1" width="4.2" height="289.7" fill="#fff"/>
<rect x="1195.94" y="776.1" width="4.2" height="289.7" fill="#fff"/>
<rect x="1262.45" y="776.1" width="4.2" height="289.7" fill="#fff"/>
<rect x="213.6" y="790.7" width="1114.2" height="4.2" fill="#fff"/>
<rect x="213.6" y="818.85" width="1114.2" height="4.2" fill="#fff"/>
<rect x="213.6" y="847.5" width="1114.2" height="4.2" fill="#fff"/>
<rect x="213.6" y="875.65" width="1114.2" height="4.2" fill="#fff"/>
<rect x="213.6" y="904.45" width="1114.2" height="4.2" fill="#fff"/>
<rect x="213.6" y="932.75" width="1114.2" height="4.2" fill="#fff"/>
<rect x="213.6" y="961.45" width="1114.2" height="4.2" fill="#fff"/>
<rect x="213.6" y="990.05" width="1114.2" height="4.2" fill="#fff"/>
<rect x="213.6" y="1018.45" width="1114.2" height="4.2" fill="#fff"/>
<rect x="213.6" y="1046.5" width="1114.2" height="4.2" fill="#fff"/>
<rect x="224" y="774.6" width="31" height="29.34" fill="#939598"/>
<rect x="224" y="803.64" width="31" height="29.34" fill="#C6C7C9"/>
<rect x="224" y="832.68" width="31" height="29.34" fill="#E6E7E8"/>
<rect x="224" y="861.72" width="31" height="29.34" fill="#939598"/>
<rect x="224" y="890.76" width="31" height="29.34" fill="#C6C7C9"/>
<rect x="224" y="919.8" width="31" height="29.34" fill="#C6C7C9"/>
<rect x="224" y="948.84" width="31" height="29.34" fill="#939598"/>
<rect x="224" y="977.88" width="31" height="29.34" fill="#E6E7E8"/>
<rect x="224" y="1006.92" width="31" height="29.34" fill="#E6E7E8"/>
<rect x="224" y="1035.96" width="31" height="29.34" fill="#939598"/>
<path d="M83.5 800.1L83.5 783.4L82.1 783.4L77.2 787L77.2 788.9L81.7 786L81.7 800.1Z"/>
<text x="92.3" y="800.1" font-size="23.5" text-anchor="middle">8</text>
<text x="105.8" y="800.1" font-size="23.5" text-anchor="middle">0</text>
<text x="136.2" y="800.1" font-size="23.5" text-anchor="middle" fill="#00A651">3</text>
<text x="161.8" y="800.1" textLength="15" lengthAdjust="spacingAndGlyphs" fill="#00A651" font-size="23">Y</text>
<text x="238.2" y="800.1" font-size="23.5" text-anchor="middle" class="d3">3</text>
<line x1="207.6" y1="792.8" x2="214.3" y2="792.8" stroke="#58595B" stroke-width="1.3"/>
<path d="M83.7 829.16L83.7 812.46L82.3 812.46L77.4 816.06L77.4 817.96L81.9 815.06L81.9 829.16Z"/>
<text x="92.5" y="829.16" font-size="23.5" text-anchor="middle">9</text>
<text x="105.9" y="829.16" font-size="23.5" text-anchor="middle">9</text>
<text x="136.2" y="829.16" font-size="23.5" text-anchor="middle">4</text>
<text x="161.8" y="829.16" textLength="16.5" lengthAdjust="spacingAndGlyphs" font-size="23">N</text>
<text x="238.2" y="829.16" font-size="23.5" text-anchor="middle" class="d2">2</text>
<line x1="207.6" y1="820.95" x2="214.3" y2="820.95" stroke="#58595B" stroke-width="1.3"/>
<path d="M83.7 858.22L83.7 841.52L82.3 841.52L77.4 845.12L77.4 847.02L81.9 844.12L81.9 858.22Z"/>
<text x="92.5" y="858.22" font-size="23.5" text-anchor="middle">4</text>
<text x="105.9" y="858.22" font-size="23.5" text-anchor="middle">5</text>
<text x="136.2" y="858.22" font-size="23.5" text-anchor="middle">4</text>
<text x="161.8" y="858.22" textLength="16.5" lengthAdjust="spacingAndGlyphs" font-size="23">N</text>
<path d="M240.7 858.22L240.7 841.52L239.3 841.52L234.4 845.12L234.4 847.02L238.9 844.12L238.9 858.22Z"/>
<line x1="207.6" y1="849.6" x2="214.3" y2="849.6" stroke="#58595B" stroke-width="1.3"/>
<text x="79.1" y="887.28" font-size="23.5" text-anchor="middle">2</text>
<text x="92.5" y="887.28" font-size="23.5" text-anchor="middle">3</text>
<text x="105.9" y="887.28" font-size="23.5" text-anchor="middle">7</text>
<text x="136.2" y="887.28" font-size="23.5" text-anchor="middle">4</text>
<text x="161.8" y="887.28" textLength="16.5" lengthAdjust="spacingAndGlyphs" font-size="23">N</text>
<text x="238.2" y="887.28" font-size="23.5" text-anchor="middle" class="d3">3</text>
<line x1="207.6" y1="877.75" x2="214.3" y2="877.75" stroke="#58595B" stroke-width="1.3"/>
<text x="83.3" y="916.34" font-size="23.5" text-anchor="middle">2</text>
<path d="M97.1 916.34L97.1 899.64L95.7 899.64L90.8 903.24L90.8 905.14L95.3 902.24L95.3 916.34Z"/>
<text x="105.9" y="916.34" font-size="23.5" text-anchor="middle">3</text>
<text x="136.2" y="916.34" font-size="23.5" text-anchor="middle">4</text>
<text x="161.8" y="916.34" textLength="15" lengthAdjust="spacingAndGlyphs" fill="#00A651" font-size="23">Y</text>
<text x="238.2" y="916.34" font-size="23.5" text-anchor="middle" class="d2">2</text>
<line x1="207.6" y1="906.55" x2="214.3" y2="906.55" stroke="#58595B" stroke-width="1.3"/>
<path d="M83.7 945.4L83.7 928.7L82.3 928.7L77.4 932.3L77.4 934.2L81.9 931.3L81.9 945.4Z"/>
<text x="92.5" y="945.4" font-size="23.5" text-anchor="middle">5</text>
<text x="105.9" y="945.4" font-size="23.5" text-anchor="middle">7</text>
<text x="136.2" y="945.4" font-size="23.5" text-anchor="middle">4</text>
<text x="161.8" y="945.4" textLength="16.5" lengthAdjust="spacingAndGlyphs" font-size="23">N</text>
<text x="238.2" y="945.4" font-size="23.5" text-anchor="middle" class="d2">2</text>
<line x1="207.6" y1="934.85" x2="214.3" y2="934.85" stroke="#58595B" stroke-width="1.3"/>
<text x="79.1" y="974.46" font-size="23.5" text-anchor="middle">2</text>
<text x="92.5" y="974.46" font-size="23.5" text-anchor="middle">2</text>
<text x="105.9" y="974.46" font-size="23.5" text-anchor="middle">8</text>
<text x="136.2" y="974.46" font-size="23.5" text-anchor="middle">4</text>
<text x="161.8" y="974.46" textLength="40" lengthAdjust="spacingAndGlyphs" fill="#0072BC" font-size="23">nd#</text>
<text x="238.2" y="974.46" font-size="23.5" text-anchor="middle" class="d3">3</text>
<line x1="207.6" y1="963.55" x2="214.3" y2="963.55" stroke="#58595B" stroke-width="1.3"/>
<path d="M83.7 1003.52L83.7 986.82L82.3 986.82L77.4 990.42L77.4 992.32L81.9 989.42L81.9 1003.52Z"/>
<text x="92.5" y="1003.52" font-size="23.5" text-anchor="middle">5</text>
<text x="105.9" y="1003.52" font-size="23.5" text-anchor="middle">6</text>
<text x="136.2" y="1003.52" font-size="23.5" text-anchor="middle">4</text>
<text x="161.8" y="1003.52" textLength="16.5" lengthAdjust="spacingAndGlyphs" font-size="23">N</text>
<path d="M240.7 1003.52L240.7 986.82L239.3 986.82L234.4 990.42L234.4 992.32L238.9 989.42L238.9 1003.52Z"/>
<line x1="207.6" y1="992.15" x2="214.3" y2="992.15" stroke="#58595B" stroke-width="1.3"/>
<path d="M83.7 1032.58L83.7 1015.88L82.3 1015.88L77.4 1019.48L77.4 1021.38L81.9 1018.48L81.9 1032.58Z"/>
<text x="92.5" y="1032.58" font-size="23.5" text-anchor="middle">4</text>
<text x="105.9" y="1032.58" font-size="23.5" text-anchor="middle">9</text>
<text x="136.2" y="1032.58" font-size="23.5" text-anchor="middle">4</text>
<text x="161.8" y="1032.58" textLength="16.5" lengthAdjust="spacingAndGlyphs" font-size="23">N</text>
<path d="M240.7 1032.58L240.7 1015.88L239.3 1015.88L234.4 1019.48L234.4 1021.38L238.9 1018.48L238.9 1032.58Z"/>
<line x1="207.6" y1="1020.55" x2="214.3" y2="1020.55" stroke="#58595B" stroke-width="1.3"/>
<text x="79.1" y="1061.64" font-size="23.5" text-anchor="middle">2</text>
<text x="92.5" y="1061.64" font-size="23.5" text-anchor="middle">3</text>
<text x="105.9" y="1061.64" font-size="23.5" text-anchor="middle">2</text>
<text x="136.2" y="1061.64" font-size="23.5" text-anchor="middle">4</text>
<text x="161.8" y="1061.64" textLength="16.5" lengthAdjust="spacingAndGlyphs" font-size="23">N</text>
<text x="238.2" y="1061.64" font-size="23.5" text-anchor="middle" class="d3">3</text>
<line x1="207.6" y1="1048.6" x2="214.3" y2="1048.6" stroke="#58595B" stroke-width="1.3"/>
<g transform="translate(45.4 921.4) rotate(-90)">
<text x="-37.25" y="0" font-size="27" textLength="74.5" lengthAdjust="spacingAndGlyphs" xml:space="preserve">Arm 3</text>
</g>
<line x1="56.6" y1="775.2" x2="56.6" y2="1066" stroke="#6D6E71" stroke-width="1.5"/>
<rect x="266.9" y="779.4" width="449.3" height="26.8" fill="#fff"/>
<rect x="266.9" y="807.2" width="316.4" height="27.5" fill="#fff"/>
<rect x="266.9" y="836.1" width="231.9" height="27" fill="#fff"/>
<rect x="266.9" y="864.1" width="207.9" height="27.3" fill="#fff"/>
<rect x="266.9" y="892.8" width="203" height="27.5" fill="#fff"/>
<rect x="266.9" y="921" width="170.6" height="27.7" fill="#fff"/>
<rect x="266.9" y="949.7" width="167.6" height="27.7" fill="#fff"/>
<rect x="266.9" y="978.4" width="148.8" height="27.5" fill="#fff"/>
<rect x="266.9" y="1006.7" width="98.1" height="27.7" fill="#fff"/>
<rect x="266.9" y="1035.2" width="81.2" height="26.8" fill="#fff"/>
<rect x="266.9" y="780.4" width="22.5" height="24.8" fill="#C6C7C9"/>
<rect x="289.4" y="780.4" width="205.7" height="24.8" fill="#6DB47E"/>
<rect x="495.1" y="780.4" width="200.9" height="24.8" fill="#FBD717"/>
<rect x="696" y="780.4" width="20.2" height="24.8" fill="#6088C4"/>
<line x1="279" y1="785.6" x2="279" y2="803.4" stroke="#231F20" stroke-width="2.1"/>
<line x1="284.3" y1="785.6" x2="284.3" y2="803.4" stroke="#231F20" stroke-width="2.1"/>
<line x1="289.4" y1="785.6" x2="289.4" y2="803.4" stroke="#231F20" stroke-width="2.1"/>
<line x1="299.5" y1="785.6" x2="299.5" y2="803.4" stroke="#231F20" stroke-width="2.1"/>
<line x1="309.7" y1="785.6" x2="309.7" y2="803.4" stroke="#231F20" stroke-width="2.1"/>
<line x1="314.8" y1="785.6" x2="314.8" y2="803.4" stroke="#231F20" stroke-width="2.1"/>
<polyline points="723.6,788.6 737.7,794.9 723.6,801.2" fill="none" stroke="#231F20" stroke-width="2.2"/>
<rect x="266.9" y="808.2" width="27.1" height="25.5" fill="#C6C7C9"/>
<rect x="294" y="808.2" width="40.7" height="25.5" fill="#6DB47E"/>
<rect x="334.7" y="808.2" width="243.1" height="25.5" fill="#6088C4"/>
<rect x="577.8" y="808.2" width="5.5" height="25.5" fill="#F3912F"/>
<line x1="282.4" y1="813.4" x2="282.4" y2="831.9" stroke="#231F20" stroke-width="2.1"/>
<line x1="287.7" y1="813.4" x2="287.7" y2="831.9" stroke="#231F20" stroke-width="2.1"/>
<line x1="294.4" y1="813.4" x2="294.4" y2="831.9" stroke="#231F20" stroke-width="2.1"/>
<line x1="304.6" y1="813.4" x2="304.6" y2="831.9" stroke="#231F20" stroke-width="2.1"/>
<line x1="308.3" y1="813.4" x2="308.3" y2="831.9" stroke="#231F20" stroke-width="2.1"/>
<rect x="266.9" y="837.1" width="37.1" height="25" fill="#C6C7C9"/>
<rect x="304" y="837.1" width="191.4" height="25" fill="#6088C4"/>
<rect x="495.4" y="837.1" width="3.4" height="25" fill="#C8102E"/>
<line x1="292.8" y1="842.3" x2="292.8" y2="860.3" stroke="#231F20" stroke-width="2.1"/>
<line x1="298.1" y1="842.3" x2="298.1" y2="860.3" stroke="#231F20" stroke-width="2.1"/>
<line x1="303.2" y1="842.3" x2="303.2" y2="860.3" stroke="#231F20" stroke-width="2.1"/>
<rect x="266.9" y="865.1" width="32.1" height="25.3" fill="#C6C7C9"/>
<rect x="299" y="865.1" width="22" height="25.3" fill="#6DB47E"/>
<rect x="321" y="865.1" width="150.5" height="25.3" fill="#6088C4"/>
<rect x="471.5" y="865.1" width="3.3" height="25.3" fill="#C8102E"/>
<line x1="289.4" y1="870.3" x2="289.4" y2="888.6" stroke="#231F20" stroke-width="2.1"/>
<line x1="294.7" y1="870.3" x2="294.7" y2="888.6" stroke="#231F20" stroke-width="2.1"/>
<line x1="299.8" y1="870.3" x2="299.8" y2="888.6" stroke="#231F20" stroke-width="2.1"/>
<line x1="309.7" y1="870.3" x2="309.7" y2="888.6" stroke="#231F20" stroke-width="2.1"/>
<line x1="314.8" y1="870.3" x2="314.8" y2="888.6" stroke="#231F20" stroke-width="2.1"/>
<line x1="319.9" y1="870.3" x2="319.9" y2="888.6" stroke="#231F20" stroke-width="2.1"/>
<rect x="266.9" y="893.8" width="27.1" height="25.5" fill="#C6C7C9"/>
<rect x="294" y="893.8" width="172.4" height="25.5" fill="#6088C4"/>
<rect x="466.4" y="893.8" width="3.5" height="25.5" fill="#C8102E"/>
<line x1="284" y1="899" x2="284" y2="917.5" stroke="#231F20" stroke-width="2.1"/>
<line x1="289.4" y1="899" x2="289.4" y2="917.5" stroke="#231F20" stroke-width="2.1"/>
<line x1="294.4" y1="899" x2="294.4" y2="917.5" stroke="#231F20" stroke-width="2.1"/>
<line x1="304.6" y1="899" x2="304.6" y2="917.5" stroke="#231F20" stroke-width="2.1"/>
<line x1="309.7" y1="899" x2="309.7" y2="917.5" stroke="#231F20" stroke-width="2.1"/>
<line x1="314.8" y1="899" x2="314.8" y2="917.5" stroke="#231F20" stroke-width="2.1"/>
<line x1="319.9" y1="899" x2="319.9" y2="917.5" stroke="#231F20" stroke-width="2.1"/>
<rect x="266.9" y="922" width="22.5" height="25.7" fill="#C6C7C9"/>
<rect x="289.4" y="922" width="20.3" height="25.7" fill="#6DB47E"/>
<rect x="309.7" y="922" width="124.8" height="25.7" fill="#6088C4"/>
<rect x="434.5" y="922" width="3" height="25.7" fill="#C8102E"/>
<line x1="279" y1="927.2" x2="279" y2="945.9" stroke="#231F20" stroke-width="2.1"/>
<line x1="284.3" y1="927.2" x2="284.3" y2="945.9" stroke="#231F20" stroke-width="2.1"/>
<line x1="289.4" y1="927.2" x2="289.4" y2="945.9" stroke="#231F20" stroke-width="2.1"/>
<line x1="299.5" y1="927.2" x2="299.5" y2="945.9" stroke="#231F20" stroke-width="2.1"/>
<line x1="304.6" y1="927.2" x2="304.6" y2="945.9" stroke="#231F20" stroke-width="2.1"/>
<line x1="309.7" y1="927.2" x2="309.7" y2="945.9" stroke="#231F20" stroke-width="2.1"/>
<rect x="266.9" y="950.7" width="22.5" height="25.7" fill="#C6C7C9"/>
<rect x="289.4" y="950.7" width="141.85" height="25.7" fill="#6088C4"/>
<rect x="431.25" y="950.7" width="3.25" height="25.7" fill="#C8102E"/>
<line x1="277.8" y1="955.9" x2="277.8" y2="974.6" stroke="#231F20" stroke-width="2.1"/>
<line x1="283.1" y1="955.9" x2="283.1" y2="974.6" stroke="#231F20" stroke-width="2.1"/>
<line x1="288.2" y1="955.9" x2="288.2" y2="974.6" stroke="#231F20" stroke-width="2.1"/>
<line x1="297.9" y1="955.9" x2="297.9" y2="974.6" stroke="#231F20" stroke-width="2.1"/>
<line x1="303.2" y1="955.9" x2="303.2" y2="974.6" stroke="#231F20" stroke-width="2.1"/>
<rect x="266.9" y="979.4" width="22.5" height="25.5" fill="#C6C7C9"/>
<rect x="289.4" y="979.4" width="123.1" height="25.5" fill="#6088C4"/>
<rect x="412.5" y="979.4" width="3.2" height="25.5" fill="#C8102E"/>
<line x1="279" y1="984.6" x2="279" y2="1003.1" stroke="#231F20" stroke-width="2.1"/>
<line x1="284.3" y1="984.6" x2="284.3" y2="1003.1" stroke="#231F20" stroke-width="2.1"/>
<line x1="289.4" y1="984.6" x2="289.4" y2="1003.1" stroke="#231F20" stroke-width="2.1"/>
<line x1="299.5" y1="984.6" x2="299.5" y2="1003.1" stroke="#231F20" stroke-width="2.1"/>
<line x1="304.6" y1="984.6" x2="304.6" y2="1003.1" stroke="#231F20" stroke-width="2.1"/>
<line x1="309.7" y1="984.6" x2="309.7" y2="1003.1" stroke="#231F20" stroke-width="2.1"/>
<rect x="266.9" y="1007.7" width="37.5" height="25.7" fill="#C6C7C9"/>
<rect x="304.4" y="1007.7" width="15" height="25.7" fill="#6DB47E"/>
<rect x="319.4" y="1007.7" width="42.6" height="25.7" fill="#6088C4"/>
<rect x="362" y="1007.7" width="3" height="25.7" fill="#C8102E"/>
<line x1="292.8" y1="1012.9" x2="292.8" y2="1031.6" stroke="#231F20" stroke-width="2.1"/>
<line x1="297.9" y1="1012.9" x2="297.9" y2="1031.6" stroke="#231F20" stroke-width="2.1"/>
<line x1="303.2" y1="1012.9" x2="303.2" y2="1031.6" stroke="#231F20" stroke-width="2.1"/>
<rect x="266.9" y="1036.2" width="22.5" height="24.8" fill="#C6C7C9"/>
<rect x="289.4" y="1036.2" width="55.6" height="24.8" fill="#6088C4"/>
<rect x="345" y="1036.2" width="3.1" height="24.8" fill="#C8102E"/>
<line x1="279" y1="1041.4" x2="279" y2="1059.2" stroke="#231F20" stroke-width="2.1"/>
<line x1="284.3" y1="1041.4" x2="284.3" y2="1059.2" stroke="#231F20" stroke-width="2.1"/>
<line x1="289.4" y1="1041.4" x2="289.4" y2="1059.2" stroke="#231F20" stroke-width="2.1"/>
<line x1="266.9" y1="1066.1" x2="266.9" y2="1073.8" stroke="#58595B" stroke-width="1.4"/>
<line x1="399.92" y1="1066.1" x2="399.92" y2="1073.8" stroke="#58595B" stroke-width="1.4"/>
<line x1="532.94" y1="1066.1" x2="532.94" y2="1073.8" stroke="#58595B" stroke-width="1.4"/>
<line x1="665.96" y1="1066.1" x2="665.96" y2="1073.8" stroke="#58595B" stroke-width="1.4"/>
<line x1="798.98" y1="1066.1" x2="798.98" y2="1073.8" stroke="#58595B" stroke-width="1.4"/>
<line x1="932" y1="1066.1" x2="932" y2="1073.8" stroke="#58595B" stroke-width="1.4"/>
<line x1="1065.02" y1="1066.1" x2="1065.02" y2="1073.8" stroke="#58595B" stroke-width="1.4"/>
<line x1="1198.04" y1="1066.1" x2="1198.04" y2="1073.8" stroke="#58595B" stroke-width="1.4"/>
<line x1="1329.7" y1="1066.1" x2="1329.7" y2="1073.8" stroke="#58595B" stroke-width="1.4"/>
<rect x="213.6" y="1094.2" width="1112.6" height="237.6" fill="#EBECEC"/>
<rect x="263.6" y="1094.2" width="4.2" height="237.6" fill="#fff"/>
<rect x="330.05" y="1094.2" width="4.2" height="237.6" fill="#fff"/>
<rect x="396.5" y="1094.2" width="4.2" height="237.6" fill="#fff"/>
<rect x="462.95" y="1094.2" width="4.2" height="237.6" fill="#fff"/>
<rect x="529.4" y="1094.2" width="4.2" height="237.6" fill="#fff"/>
<rect x="595.85" y="1094.2" width="4.2" height="237.6" fill="#fff"/>
<rect x="662.3" y="1094.2" width="4.2" height="237.6" fill="#fff"/>
<rect x="728.75" y="1094.2" width="4.2" height="237.6" fill="#fff"/>
<rect x="795.2" y="1094.2" width="4.2" height="237.6" fill="#fff"/>
<rect x="861.65" y="1094.2" width="4.2" height="237.6" fill="#fff"/>
<rect x="928.1" y="1094.2" width="4.2" height="237.6" fill="#fff"/>
<rect x="994.55" y="1094.2" width="4.2" height="237.6" fill="#fff"/>
<rect x="1061" y="1094.2" width="4.2" height="237.6" fill="#fff"/>
<rect x="1127.45" y="1094.2" width="4.2" height="237.6" fill="#fff"/>
<rect x="1193.9" y="1094.2" width="4.2" height="237.6" fill="#fff"/>
<rect x="1260.35" y="1094.2" width="4.2" height="237.6" fill="#fff"/>
<rect x="213.6" y="1108.95" width="1112.6" height="4.2" fill="#fff"/>
<rect x="213.6" y="1138.45" width="1112.6" height="4.2" fill="#fff"/>
<rect x="213.6" y="1167.4" width="1112.6" height="4.2" fill="#fff"/>
<rect x="213.6" y="1196.35" width="1112.6" height="4.2" fill="#fff"/>
<rect x="213.6" y="1225.25" width="1112.6" height="4.2" fill="#fff"/>
<rect x="213.6" y="1254.45" width="1112.6" height="4.2" fill="#fff"/>
<rect x="213.6" y="1283.6" width="1112.6" height="4.2" fill="#fff"/>
<rect x="213.6" y="1312.55" width="1112.6" height="4.2" fill="#fff"/>
<rect x="224" y="1094.5" width="31" height="29.95" fill="#C6C7C9"/>
<rect x="224" y="1124.15" width="31" height="29.95" fill="#E6E7E8"/>
<rect x="224" y="1153.8" width="31" height="29.95" fill="#C6C7C9"/>
<rect x="224" y="1183.45" width="31" height="29.95" fill="#E6E7E8"/>
<rect x="224" y="1213.1" width="31" height="29.95" fill="#E6E7E8"/>
<rect x="224" y="1242.75" width="31" height="29.95" fill="#C6C7C9"/>
<rect x="224" y="1272.4" width="31" height="29.95" fill="#C6C7C9"/>
<rect x="224" y="1302.05" width="31" height="29.95" fill="#C6C7C9"/>
<text x="79.1" y="1121.5" font-size="23.5" text-anchor="middle">2</text>
<text x="92.5" y="1121.5" font-size="23.5" text-anchor="middle">2</text>
<text x="105.9" y="1121.5" font-size="23.5" text-anchor="middle">3</text>
<text x="136.2" y="1121.5" font-size="23.5" text-anchor="middle" fill="#00A651">3</text>
<text x="161.8" y="1121.5" textLength="15" lengthAdjust="spacingAndGlyphs" fill="#00A651" font-size="23">Y</text>
<text x="238.2" y="1121.5" font-size="23.5" text-anchor="middle" class="d2">2</text>
<line x1="207.6" y1="1111.05" x2="214.3" y2="1111.05" stroke="#58595B" stroke-width="1.3"/>
<text x="83.3" y="1150.76" font-size="23.5" text-anchor="middle">2</text>
<path d="M97.1 1150.76L97.1 1134.06L95.7 1134.06L90.8 1137.66L90.8 1139.56L95.3 1136.66L95.3 1150.76Z"/>
<text x="105.9" y="1150.76" font-size="23.5" text-anchor="middle">5</text>
<text x="136.2" y="1150.76" font-size="23.5" text-anchor="middle">4</text>
<text x="161.8" y="1150.76" textLength="16.5" lengthAdjust="spacingAndGlyphs" font-size="23">N</text>
<path d="M240.7 1150.76L240.7 1134.06L239.3 1134.06L234.4 1137.66L234.4 1139.56L238.9 1136.66L238.9 1150.76Z"/>
<line x1="207.6" y1="1140.55" x2="214.3" y2="1140.55" stroke="#58595B" stroke-width="1.3"/>
<text x="79.1" y="1180.02" font-size="23.5" text-anchor="middle">2</text>
<text x="92.5" y="1180.02" font-size="23.5" text-anchor="middle">3</text>
<text x="105.9" y="1180.02" font-size="23.5" text-anchor="middle">4</text>
<text x="136.2" y="1180.02" font-size="23.5" text-anchor="middle">4</text>
<text x="161.8" y="1180.02" textLength="16.5" lengthAdjust="spacingAndGlyphs" font-size="23">N</text>
<text x="238.2" y="1180.02" font-size="23.5" text-anchor="middle" class="d2">2</text>
<line x1="207.6" y1="1169.5" x2="214.3" y2="1169.5" stroke="#58595B" stroke-width="1.3"/>
<path d="M83.7 1209.28L83.7 1192.58L82.3 1192.58L77.4 1196.18L77.4 1198.08L81.9 1195.18L81.9 1209.28Z"/>
<text x="92.5" y="1209.28" font-size="23.5" text-anchor="middle">9</text>
<text x="105.9" y="1209.28" font-size="23.5" text-anchor="middle">3</text>
<text x="136.2" y="1209.28" font-size="23.5" text-anchor="middle">4</text>
<text x="161.8" y="1209.28" textLength="16.5" lengthAdjust="spacingAndGlyphs" font-size="23">N</text>
<path d="M240.7 1209.28L240.7 1192.58L239.3 1192.58L234.4 1196.18L234.4 1198.08L238.9 1195.18L238.9 1209.28Z"/>
<line x1="207.6" y1="1198.45" x2="214.3" y2="1198.45" stroke="#58595B" stroke-width="1.3"/>
<text x="87.5" y="1238.54" font-size="23.5" text-anchor="middle">2</text>
<path d="M101.3 1238.54L101.3 1221.84L99.9 1221.84L95 1225.44L95 1227.34L99.5 1224.44L99.5 1238.54Z"/>
<path d="M110.5 1238.54L110.5 1221.84L109.1 1221.84L104.2 1225.44L104.2 1227.34L108.7 1224.44L108.7 1238.54Z"/>
<text x="136.2" y="1238.54" font-size="23.5" text-anchor="middle">4</text>
<text x="161.8" y="1238.54" textLength="16.5" lengthAdjust="spacingAndGlyphs" font-size="23">N</text>
<path d="M240.7 1238.54L240.7 1221.84L239.3 1221.84L234.4 1225.44L234.4 1227.34L238.9 1224.44L238.9 1238.54Z"/>
<line x1="207.6" y1="1227.35" x2="214.3" y2="1227.35" stroke="#58595B" stroke-width="1.3"/>
<text x="79.1" y="1267.8" font-size="23.5" text-anchor="middle">2</text>
<text x="92.5" y="1267.8" font-size="23.5" text-anchor="middle">2</text>
<text x="105.9" y="1267.8" font-size="23.5" text-anchor="middle">4</text>
<text x="136.2" y="1267.8" font-size="23.5" text-anchor="middle">4</text>
<text x="161.8" y="1267.8" textLength="16.5" lengthAdjust="spacingAndGlyphs" font-size="23">N</text>
<text x="238.2" y="1267.8" font-size="23.5" text-anchor="middle" class="d2">2</text>
<line x1="207.6" y1="1256.55" x2="214.3" y2="1256.55" stroke="#58595B" stroke-width="1.3"/>
<text x="83.3" y="1297.06" font-size="23.5" text-anchor="middle">2</text>
<text x="96.7" y="1297.06" font-size="23.5" text-anchor="middle">2</text>
<path d="M110.5 1297.06L110.5 1280.36L109.1 1280.36L104.2 1283.96L104.2 1285.86L108.7 1282.96L108.7 1297.06Z"/>
<text x="136.2" y="1297.06" font-size="23.5" text-anchor="middle">4</text>
<text x="161.8" y="1297.06" textLength="16.5" lengthAdjust="spacingAndGlyphs" font-size="23">N</text>
<text x="238.2" y="1297.06" font-size="23.5" text-anchor="middle" class="d2">2</text>
<line x1="207.6" y1="1285.7" x2="214.3" y2="1285.7" stroke="#58595B" stroke-width="1.3"/>
<text x="79.1" y="1326.32" font-size="23.5" text-anchor="middle">2</text>
<text x="92.5" y="1326.32" font-size="23.5" text-anchor="middle">5</text>
<text x="105.9" y="1326.32" font-size="23.5" text-anchor="middle">3</text>
<text x="136.2" y="1326.32" font-size="23.5" text-anchor="middle">4</text>
<text x="161.8" y="1326.32" textLength="28" lengthAdjust="spacingAndGlyphs" fill="#0072BC" font-size="23">N#</text>
<text x="238.2" y="1326.32" font-size="23.5" text-anchor="middle" class="d2">2</text>
<line x1="207.6" y1="1314.65" x2="214.3" y2="1314.65" stroke="#58595B" stroke-width="1.3"/>
<g transform="translate(45.4 1214) rotate(-90)">
<text x="-37.25" y="0" font-size="27" textLength="74.5" lengthAdjust="spacingAndGlyphs" xml:space="preserve">Arm 4</text>
</g>
<line x1="56.6" y1="1095" x2="56.6" y2="1333.8" stroke="#6D6E71" stroke-width="1.5"/>
<rect x="265.7" y="1097.2" width="535.4" height="27.7" fill="#fff"/>
<rect x="265.7" y="1126.8" width="219.3" height="27.5" fill="#fff"/>
<rect x="265.7" y="1155.8" width="140.1" height="27.4" fill="#fff"/>
<rect x="265.7" y="1184.7" width="116.5" height="27.5" fill="#fff"/>
<rect x="265.7" y="1213.6" width="93.1" height="27.5" fill="#fff"/>
<rect x="265.7" y="1242.6" width="79.2" height="27.9" fill="#fff"/>
<rect x="265.7" y="1272" width="65.8" height="27.4" fill="#fff"/>
<rect x="265.7" y="1300.9" width="55.6" height="27.5" fill="#fff"/>
<rect x="265.7" y="1098.2" width="20.6" height="25.7" fill="#C6C7C9"/>
<rect x="286.3" y="1098.2" width="155.4" height="25.7" fill="#6DB47E"/>
<rect x="441.7" y="1098.2" width="359.4" height="25.7" fill="#6088C4"/>
<line x1="275.5" y1="1103.4" x2="275.5" y2="1122.1" stroke="#231F20" stroke-width="2.1"/>
<line x1="280.8" y1="1103.4" x2="280.8" y2="1122.1" stroke="#231F20" stroke-width="2.1"/>
<line x1="286.3" y1="1103.4" x2="286.3" y2="1122.1" stroke="#231F20" stroke-width="2.1"/>
<polyline points="808.5,1106.85 822.5,1113.15 808.5,1119.45" fill="none" stroke="#231F20" stroke-width="2.2"/>
<rect x="265.7" y="1127.8" width="22.5" height="25.5" fill="#C6C7C9"/>
<rect x="288.2" y="1127.8" width="192.1" height="25.5" fill="#6088C4"/>
<rect x="480.3" y="1127.8" width="4.7" height="25.5" fill="#C8102E"/>
<line x1="277.3" y1="1133" x2="277.3" y2="1151.5" stroke="#231F20" stroke-width="2.1"/>
<line x1="282.4" y1="1133" x2="282.4" y2="1151.5" stroke="#231F20" stroke-width="2.1"/>
<line x1="288.2" y1="1133" x2="288.2" y2="1151.5" stroke="#231F20" stroke-width="2.1"/>
<line x1="318.3" y1="1132.4" x2="318.3" y2="1152.1" stroke="#fff" stroke-width="2.1"/>
<line x1="323.6" y1="1132.4" x2="323.6" y2="1152.1" stroke="#fff" stroke-width="2.1"/>
<line x1="328.7" y1="1132.4" x2="328.7" y2="1152.1" stroke="#fff" stroke-width="2.1"/>
<rect x="265.7" y="1156.8" width="22.5" height="25.4" fill="#C6C7C9"/>
<rect x="288.2" y="1156.8" width="114.6" height="25.4" fill="#6088C4"/>
<rect x="402.8" y="1156.8" width="3" height="25.4" fill="#C8102E"/>
<line x1="277.3" y1="1162" x2="277.3" y2="1180.4" stroke="#231F20" stroke-width="2.1"/>
<line x1="282.4" y1="1162" x2="282.4" y2="1180.4" stroke="#231F20" stroke-width="2.1"/>
<line x1="288.2" y1="1162" x2="288.2" y2="1180.4" stroke="#231F20" stroke-width="2.1"/>
<line x1="297.9" y1="1162" x2="297.9" y2="1180.4" stroke="#F2E21B" stroke-width="2.1"/>
<line x1="303.2" y1="1162" x2="303.2" y2="1180.4" stroke="#F2E21B" stroke-width="2.1"/>
<line x1="308.6" y1="1162" x2="308.6" y2="1180.4" stroke="#F2E21B" stroke-width="2.1"/>
<line x1="313.4" y1="1162" x2="313.4" y2="1180.4" stroke="#F2E21B" stroke-width="2.1"/>
<rect x="265.7" y="1185.7" width="24.1" height="25.5" fill="#C6C7C9"/>
<rect x="289.8" y="1185.7" width="89.4" height="25.5" fill="#6088C4"/>
<rect x="379.2" y="1185.7" width="3" height="25.5" fill="#C8102E"/>
<line x1="277.3" y1="1190.9" x2="277.3" y2="1209.4" stroke="#231F20" stroke-width="2.1"/>
<line x1="282.4" y1="1190.9" x2="282.4" y2="1209.4" stroke="#231F20" stroke-width="2.1"/>
<line x1="289.8" y1="1190.9" x2="289.8" y2="1209.4" stroke="#231F20" stroke-width="2.1"/>
<rect x="265.7" y="1214.6" width="37.5" height="25.5" fill="#C6C7C9"/>
<rect x="303.2" y="1214.6" width="52.1" height="25.5" fill="#6DB47E"/>
<rect x="355.3" y="1214.6" width="3.5" height="25.5" fill="#C8102E"/>
<line x1="292.8" y1="1219.8" x2="292.8" y2="1238.3" stroke="#231F20" stroke-width="2.1"/>
<line x1="297.9" y1="1219.8" x2="297.9" y2="1238.3" stroke="#231F20" stroke-width="2.1"/>
<line x1="303.2" y1="1219.8" x2="303.2" y2="1238.3" stroke="#231F20" stroke-width="2.1"/>
<rect x="265.7" y="1243.6" width="27.6" height="25.9" fill="#C6C7C9"/>
<rect x="293.3" y="1243.6" width="26.6" height="25.9" fill="#6DB47E"/>
<rect x="319.9" y="1243.6" width="22" height="25.9" fill="#6088C4"/>
<rect x="341.9" y="1243.6" width="3" height="25.9" fill="#C8102E"/>
<line x1="280.8" y1="1248.8" x2="280.8" y2="1267.7" stroke="#231F20" stroke-width="2.1"/>
<line x1="286.3" y1="1248.8" x2="286.3" y2="1267.7" stroke="#231F20" stroke-width="2.1"/>
<line x1="293.3" y1="1248.8" x2="293.3" y2="1267.7" stroke="#231F20" stroke-width="2.1"/>
<line x1="303.2" y1="1248.8" x2="303.2" y2="1267.7" stroke="#231F20" stroke-width="2.1"/>
<line x1="308.3" y1="1248.8" x2="308.3" y2="1267.7" stroke="#231F20" stroke-width="2.1"/>
<line x1="313.7" y1="1248.8" x2="313.7" y2="1267.7" stroke="#231F20" stroke-width="2.1"/>
<rect x="265.7" y="1273" width="22.5" height="25.4" fill="#C6C7C9"/>
<rect x="288.2" y="1273" width="40" height="25.4" fill="#6088C4"/>
<rect x="328.2" y="1273" width="3.3" height="25.4" fill="#C8102E"/>
<line x1="277.3" y1="1278.2" x2="277.3" y2="1296.6" stroke="#231F20" stroke-width="2.1"/>
<line x1="282.4" y1="1278.2" x2="282.4" y2="1296.6" stroke="#231F20" stroke-width="2.1"/>
<line x1="288.2" y1="1278.2" x2="288.2" y2="1296.6" stroke="#231F20" stroke-width="2.1"/>
<rect x="265.7" y="1301.9" width="22.5" height="25.5" fill="#C6C7C9"/>
<rect x="288.2" y="1301.9" width="30.1" height="25.5" fill="#6088C4"/>
<rect x="318.3" y="1301.9" width="3" height="25.5" fill="#C8102E"/>
<line x1="277.3" y1="1307.1" x2="277.3" y2="1325.6" stroke="#231F20" stroke-width="2.1"/>
<line x1="282.4" y1="1307.1" x2="282.4" y2="1325.6" stroke="#231F20" stroke-width="2.1"/>
<line x1="289.8" y1="1307.1" x2="289.8" y2="1325.6" stroke="#231F20" stroke-width="2.1"/>
<line x1="265.7" y1="1332.1" x2="265.7" y2="1341.3" stroke="#58595B" stroke-width="1.4"/>
<line x1="398.6" y1="1332.1" x2="398.6" y2="1341.3" stroke="#58595B" stroke-width="1.4"/>
<line x1="531.5" y1="1332.1" x2="531.5" y2="1341.3" stroke="#58595B" stroke-width="1.4"/>
<line x1="664.4" y1="1332.1" x2="664.4" y2="1341.3" stroke="#58595B" stroke-width="1.4"/>
<line x1="797.3" y1="1332.1" x2="797.3" y2="1341.3" stroke="#58595B" stroke-width="1.4"/>
<line x1="930.2" y1="1332.1" x2="930.2" y2="1341.3" stroke="#58595B" stroke-width="1.4"/>
<line x1="1063.1" y1="1332.1" x2="1063.1" y2="1341.3" stroke="#58595B" stroke-width="1.4"/>
<line x1="1196" y1="1332.1" x2="1196" y2="1341.3" stroke="#58595B" stroke-width="1.4"/>
<line x1="1328" y1="1332.1" x2="1328" y2="1341.3" stroke="#58595B" stroke-width="1.4"/>
<rect x="213.6" y="1357" width="1113.3" height="615.6" fill="#EBECEC"/>
<rect x="265.5" y="1357" width="4.2" height="615.6" fill="#fff"/>
<rect x="331.77" y="1357" width="4.2" height="615.6" fill="#fff"/>
<rect x="398.04" y="1357" width="4.2" height="615.6" fill="#fff"/>
<rect x="464.31" y="1357" width="4.2" height="615.6" fill="#fff"/>
<rect x="530.58" y="1357" width="4.2" height="615.6" fill="#fff"/>
<rect x="596.85" y="1357" width="4.2" height="615.6" fill="#fff"/>
<rect x="663.12" y="1357" width="4.2" height="615.6" fill="#fff"/>
<rect x="729.39" y="1357" width="4.2" height="615.6" fill="#fff"/>
<rect x="795.66" y="1357" width="4.2" height="615.6" fill="#fff"/>
<rect x="861.93" y="1357" width="4.2" height="615.6" fill="#fff"/>
<rect x="928.2" y="1357" width="4.2" height="615.6" fill="#fff"/>
<rect x="994.47" y="1357" width="4.2" height="615.6" fill="#fff"/>
<rect x="1060.74" y="1357" width="4.2" height="615.6" fill="#fff"/>
<rect x="1127.01" y="1357" width="4.2" height="615.6" fill="#fff"/>
<rect x="1193.28" y="1357" width="4.2" height="615.6" fill="#fff"/>
<rect x="1259.55" y="1357" width="4.2" height="615.6" fill="#fff"/>
<rect x="213.6" y="1372.45" width="1113.3" height="4.2" fill="#fff"/>
<rect x="213.6" y="1401.15" width="1113.3" height="4.2" fill="#fff"/>
<rect x="213.6" y="1430.05" width="1113.3" height="4.2" fill="#fff"/>
<rect x="213.6" y="1459" width="1113.3" height="4.2" fill="#fff"/>
<rect x="213.6" y="1488.15" width="1113.3" height="4.2" fill="#fff"/>
<rect x="213.6" y="1518.05" width="1113.3" height="4.2" fill="#fff"/>
<rect x="213.6" y="1546.1" width="1113.3" height="4.2" fill="#fff"/>
<rect x="213.6" y="1575.85" width="1113.3" height="4.2" fill="#fff"/>
<rect x="213.6" y="1604.2" width="1113.3" height="4.2" fill="#fff"/>
<rect x="213.6" y="1633.9" width="1113.3" height="4.2" fill="#fff"/>
<rect x="213.6" y="1662.65" width="1113.3" height="4.2" fill="#fff"/>
<rect x="213.6" y="1691.7" width="1113.3" height="4.2" fill="#fff"/>
<rect x="213.6" y="1721.4" width="1113.3" height="4.2" fill="#fff"/>
<rect x="213.6" y="1749.6" width="1113.3" height="4.2" fill="#fff"/>
<rect x="213.6" y="1778.85" width="1113.3" height="4.2" fill="#fff"/>
<rect x="213.6" y="1807.8" width="1113.3" height="4.2" fill="#fff"/>
<rect x="213.6" y="1836.8" width="1113.3" height="4.2" fill="#fff"/>
<rect x="213.6" y="1865.8" width="1113.3" height="4.2" fill="#fff"/>
<rect x="213.6" y="1894.75" width="1113.3" height="4.2" fill="#fff"/>
<rect x="213.6" y="1924" width="1113.3" height="4.2" fill="#fff"/>
<rect x="213.6" y="1952.55" width="1113.3" height="4.2" fill="#fff"/>
<rect x="224" y="1360.2" width="31" height="29.41" fill="#C6C7C9"/>
<rect x="224" y="1389.31" width="31" height="29.41" fill="#C6C7C9"/>
<rect x="224" y="1418.42" width="31" height="29.41" fill="#939598"/>
<rect x="224" y="1447.53" width="31" height="29.41" fill="#C6C7C9"/>
<rect x="224" y="1476.64" width="31" height="29.41" fill="#C6C7C9"/>
<rect x="224" y="1505.75" width="31" height="29.41" fill="#939598"/>
<rect x="224" y="1534.86" width="31" height="29.41" fill="#939598"/>
<rect x="224" y="1563.97" width="31" height="29.41" fill="#939598"/>
<rect x="224" y="1593.08" width="31" height="29.41" fill="#C6C7C9"/>
<rect x="224" y="1622.19" width="31" height="29.41" fill="#939598"/>
<rect x="224" y="1651.3" width="31" height="29.41" fill="#E6E7E8"/>
<rect x="224" y="1680.41" width="31" height="29.41" fill="#939598"/>
<rect x="224" y="1709.52" width="31" height="29.41" fill="#939598"/>
<rect x="224" y="1738.63" width="31" height="29.41" fill="#939598"/>
<rect x="224" y="1767.74" width="31" height="29.41" fill="#939598"/>
<rect x="224" y="1796.85" width="31" height="29.41" fill="#E6E7E8"/>
<rect x="224" y="1825.96" width="31" height="29.41" fill="#939598"/>
<rect x="224" y="1855.07" width="31" height="29.41" fill="#939598"/>
<rect x="224" y="1884.18" width="31" height="29.41" fill="#E6E7E8"/>
<rect x="224" y="1913.29" width="31" height="29.41" fill="#C6C7C9"/>
<rect x="224" y="1942.4" width="31" height="29.41" fill="#C6C7C9"/>
<text x="79.1" y="1384.1" font-size="23.5" text-anchor="middle">2</text>
<text x="92.5" y="1384.1" font-size="23.5" text-anchor="middle">6</text>
<text x="105.9" y="1384.1" font-size="23.5" text-anchor="middle">5</text>
<text x="136.2" y="1384.1" font-size="23.5" text-anchor="middle" fill="#00A651">3</text>
<text x="161.8" y="1384.1" textLength="15" lengthAdjust="spacingAndGlyphs" fill="#00A651" font-size="23">Y</text>
<text x="238.2" y="1384.1" font-size="23.5" text-anchor="middle" class="d2">2</text>
<line x1="207.6" y1="1374.55" x2="214.3" y2="1374.55" stroke="#58595B" stroke-width="1.3"/>
<text x="83.1" y="1413.33" font-size="23.5" text-anchor="middle">2</text>
<path d="M96.9 1413.33L96.9 1396.63L95.5 1396.63L90.6 1400.23L90.6 1402.13L95.1 1399.23L95.1 1413.33Z"/>
<text x="105.8" y="1413.33" font-size="23.5" text-anchor="middle">0</text>
<text x="136.2" y="1413.33" font-size="23.5" text-anchor="middle" fill="#00A651">3</text>
<text x="161.8" y="1413.33" textLength="15" lengthAdjust="spacingAndGlyphs" fill="#00A651" font-size="23">Y</text>
<text x="238.2" y="1413.33" font-size="23.5" text-anchor="middle" class="d2">2</text>
<line x1="207.6" y1="1403.25" x2="214.3" y2="1403.25" stroke="#58595B" stroke-width="1.3"/>
<text x="83.1" y="1442.56" font-size="23.5" text-anchor="middle">3</text>
<text x="96.6" y="1442.56" font-size="23.5" text-anchor="middle">0</text>
<path d="M110.5 1442.56L110.5 1425.86L109.1 1425.86L104.2 1429.46L104.2 1431.36L108.7 1428.46L108.7 1442.56Z"/>
<text x="136.2" y="1442.56" font-size="23.5" text-anchor="middle">4</text>
<text x="161.8" y="1442.56" textLength="16.5" lengthAdjust="spacingAndGlyphs" font-size="23">N</text>
<text x="238.2" y="1442.56" font-size="23.5" text-anchor="middle" class="d3">3</text>
<line x1="207.6" y1="1432.15" x2="214.3" y2="1432.15" stroke="#58595B" stroke-width="1.3"/>
<text x="79.1" y="1471.79" font-size="23.5" text-anchor="middle">2</text>
<text x="92.5" y="1471.79" font-size="23.5" text-anchor="middle">3</text>
<text x="105.9" y="1471.79" font-size="23.5" text-anchor="middle">5</text>
<text x="136.2" y="1471.79" font-size="23.5" text-anchor="middle">4</text>
<text x="161.8" y="1471.79" textLength="16.5" lengthAdjust="spacingAndGlyphs" font-size="23">N</text>
<text x="238.2" y="1471.79" font-size="23.5" text-anchor="middle" class="d2">2</text>
<line x1="207.6" y1="1461.1" x2="214.3" y2="1461.1" stroke="#58595B" stroke-width="1.3"/>
<text x="79.1" y="1501.02" font-size="23.5" text-anchor="middle">2</text>
<text x="92.5" y="1501.02" font-size="23.5" text-anchor="middle">5</text>
<text x="105.9" y="1501.02" font-size="23.5" text-anchor="middle">4</text>
<text x="136.2" y="1501.02" font-size="23.5" text-anchor="middle">4</text>
<text x="161.8" y="1501.02" textLength="16.5" lengthAdjust="spacingAndGlyphs" font-size="23">N</text>
<text x="238.2" y="1501.02" font-size="23.5" text-anchor="middle" class="d2">2</text>
<line x1="207.6" y1="1490.25" x2="214.3" y2="1490.25" stroke="#58595B" stroke-width="1.3"/>
<text x="78.9" y="1530.25" font-size="23.5" text-anchor="middle">3</text>
<text x="92.4" y="1530.25" font-size="23.5" text-anchor="middle">0</text>
<text x="105.9" y="1530.25" font-size="23.5" text-anchor="middle">3</text>
<text x="136.2" y="1530.25" font-size="23.5" text-anchor="middle">4</text>
<text x="161.8" y="1530.25" textLength="15" lengthAdjust="spacingAndGlyphs" fill="#00A651" font-size="23">Y</text>
<text x="238.2" y="1530.25" font-size="23.5" text-anchor="middle" class="d3">3</text>
<line x1="207.6" y1="1520.15" x2="214.3" y2="1520.15" stroke="#58595B" stroke-width="1.3"/>
<text x="79.1" y="1559.48" font-size="23.5" text-anchor="middle">2</text>
<text x="92.5" y="1559.48" font-size="23.5" text-anchor="middle">7</text>
<text x="105.9" y="1559.48" font-size="23.5" text-anchor="middle">5</text>
<text x="136.2" y="1559.48" font-size="23.5" text-anchor="middle">4</text>
<text x="161.8" y="1559.48" textLength="16.5" lengthAdjust="spacingAndGlyphs" font-size="23">N</text>
<text x="238.2" y="1559.48" font-size="23.5" text-anchor="middle" class="d3">3</text>
<line x1="207.6" y1="1548.2" x2="214.3" y2="1548.2" stroke="#58595B" stroke-width="1.3"/>
<text x="78.9" y="1588.71" font-size="23.5" text-anchor="middle">2</text>
<text x="92.3" y="1588.71" font-size="23.5" text-anchor="middle">3</text>
<text x="105.8" y="1588.71" font-size="23.5" text-anchor="middle">0</text>
<text x="136.2" y="1588.71" font-size="23.5" text-anchor="middle">4</text>
<text x="161.8" y="1588.71" textLength="16.5" lengthAdjust="spacingAndGlyphs" font-size="23">N</text>
<text x="238.2" y="1588.71" font-size="23.5" text-anchor="middle" class="d3">3</text>
<line x1="207.6" y1="1577.95" x2="214.3" y2="1577.95" stroke="#58595B" stroke-width="1.3"/>
<text x="78.9" y="1617.94" font-size="23.5" text-anchor="middle">2</text>
<text x="92.3" y="1617.94" font-size="23.5" text-anchor="middle">6</text>
<text x="105.8" y="1617.94" font-size="23.5" text-anchor="middle">0</text>
<text x="136.2" y="1617.94" font-size="23.5" text-anchor="middle">4</text>
<text x="161.8" y="1617.94" textLength="16.5" lengthAdjust="spacingAndGlyphs" font-size="23">N</text>
<text x="238.2" y="1617.94" font-size="23.5" text-anchor="middle" class="d2">2</text>
<line x1="207.6" y1="1606.3" x2="214.3" y2="1606.3" stroke="#58595B" stroke-width="1.3"/>
<text x="79.1" y="1647.17" font-size="23.5" text-anchor="middle">2</text>
<text x="92.5" y="1647.17" font-size="23.5" text-anchor="middle">8</text>
<text x="105.9" y="1647.17" font-size="23.5" text-anchor="middle">9</text>
<text x="136.2" y="1647.17" font-size="23.5" text-anchor="middle">4</text>
<text x="161.8" y="1647.17" textLength="16.5" lengthAdjust="spacingAndGlyphs" font-size="23">N</text>
<text x="238.2" y="1647.17" font-size="23.5" text-anchor="middle" class="d3">3</text>
<line x1="207.6" y1="1636" x2="214.3" y2="1636" stroke="#58595B" stroke-width="1.3"/>
<text x="79.1" y="1676.4" font-size="23.5" text-anchor="middle">2</text>
<text x="92.5" y="1676.4" font-size="23.5" text-anchor="middle">3</text>
<text x="105.9" y="1676.4" font-size="23.5" text-anchor="middle">9</text>
<text x="136.2" y="1676.4" font-size="23.5" text-anchor="middle">4</text>
<text x="161.8" y="1676.4" textLength="16.5" lengthAdjust="spacingAndGlyphs" font-size="23">N</text>
<path d="M240.7 1676.4L240.7 1659.7L239.3 1659.7L234.4 1663.3L234.4 1665.2L238.9 1662.3L238.9 1676.4Z"/>
<line x1="207.6" y1="1664.75" x2="214.3" y2="1664.75" stroke="#58595B" stroke-width="1.3"/>
<text x="78.9" y="1705.63" font-size="23.5" text-anchor="middle">3</text>
<text x="92.3" y="1705.63" font-size="23.5" text-anchor="middle">5</text>
<text x="105.8" y="1705.63" font-size="23.5" text-anchor="middle">0</text>
<text x="136.2" y="1705.63" font-size="23.5" text-anchor="middle">4</text>
<text x="161.8" y="1705.63" textLength="16.5" lengthAdjust="spacingAndGlyphs" font-size="23">N</text>
<text x="238.2" y="1705.63" font-size="23.5" text-anchor="middle" class="d3">3</text>
<line x1="207.6" y1="1693.8" x2="214.3" y2="1693.8" stroke="#58595B" stroke-width="1.3"/>
<text x="78.9" y="1734.86" font-size="23.5" text-anchor="middle">4</text>
<text x="92.4" y="1734.86" font-size="23.5" text-anchor="middle">0</text>
<text x="105.9" y="1734.86" font-size="23.5" text-anchor="middle">9</text>
<text x="136.2" y="1734.86" font-size="23.5" text-anchor="middle">4</text>
<text x="161.8" y="1734.86" textLength="16.5" lengthAdjust="spacingAndGlyphs" font-size="23">N</text>
<text x="238.2" y="1734.86" font-size="23.5" text-anchor="middle" class="d3">3</text>
<line x1="207.6" y1="1723.5" x2="214.3" y2="1723.5" stroke="#58595B" stroke-width="1.3"/>
<text x="79.1" y="1764.09" font-size="23.5" text-anchor="middle">2</text>
<text x="92.5" y="1764.09" font-size="23.5" text-anchor="middle">8</text>
<text x="105.9" y="1764.09" font-size="23.5" text-anchor="middle">2</text>
<text x="136.2" y="1764.09" font-size="23.5" text-anchor="middle">4</text>
<text x="161.8" y="1764.09" textLength="16.5" lengthAdjust="spacingAndGlyphs" font-size="23">N</text>
<text x="238.2" y="1764.09" font-size="23.5" text-anchor="middle" class="d3">3</text>
<line x1="207.6" y1="1751.7" x2="214.3" y2="1751.7" stroke="#58595B" stroke-width="1.3"/>
<text x="79.1" y="1793.32" font-size="23.5" text-anchor="middle">4</text>
<text x="92.5" y="1793.32" font-size="23.5" text-anchor="middle">4</text>
<text x="105.9" y="1793.32" font-size="23.5" text-anchor="middle">4</text>
<text x="136.2" y="1793.32" font-size="23.5" text-anchor="middle">4</text>
<text x="161.8" y="1793.32" textLength="16.5" lengthAdjust="spacingAndGlyphs" font-size="23">N</text>
<text x="238.2" y="1793.32" font-size="23.5" text-anchor="middle" class="d3">3</text>
<line x1="207.6" y1="1780.95" x2="214.3" y2="1780.95" stroke="#58595B" stroke-width="1.3"/>
<text x="79.1" y="1822.55" font-size="23.5" text-anchor="middle">2</text>
<text x="92.5" y="1822.55" font-size="23.5" text-anchor="middle">2</text>
<text x="105.9" y="1822.55" font-size="23.5" text-anchor="middle">6</text>
<text x="136.2" y="1822.55" font-size="23.5" text-anchor="middle" fill="#00A651">3</text>
<text x="161.8" y="1822.55" textLength="15" lengthAdjust="spacingAndGlyphs" fill="#00A651" font-size="23">Y</text>
<path d="M240.7 1822.55L240.7 1805.85L239.3 1805.85L234.4 1809.45L234.4 1811.35L238.9 1808.45L238.9 1822.55Z"/>
<line x1="207.6" y1="1809.9" x2="214.3" y2="1809.9" stroke="#58595B" stroke-width="1.3"/>
<text x="83.3" y="1851.78" font-size="23.5" text-anchor="middle">3</text>
<path d="M97.1 1851.78L97.1 1835.08L95.7 1835.08L90.8 1838.68L90.8 1840.58L95.3 1837.68L95.3 1851.78Z"/>
<text x="105.9" y="1851.78" font-size="23.5" text-anchor="middle">5</text>
<text x="136.2" y="1851.78" font-size="23.5" text-anchor="middle">4</text>
<text x="161.8" y="1851.78" textLength="16.5" lengthAdjust="spacingAndGlyphs" font-size="23">N</text>
<text x="238.2" y="1851.78" font-size="23.5" text-anchor="middle" class="d3">3</text>
<line x1="207.6" y1="1838.9" x2="214.3" y2="1838.9" stroke="#58595B" stroke-width="1.3"/>
<text x="79.1" y="1881.01" font-size="23.5" text-anchor="middle">3</text>
<text x="92.5" y="1881.01" font-size="23.5" text-anchor="middle">3</text>
<text x="105.9" y="1881.01" font-size="23.5" text-anchor="middle">8</text>
<text x="136.2" y="1881.01" font-size="23.5" text-anchor="middle">4</text>
<text x="161.8" y="1881.01" textLength="16.5" lengthAdjust="spacingAndGlyphs" font-size="23">N</text>
<text x="238.2" y="1881.01" font-size="23.5" text-anchor="middle" class="d3">3</text>
<line x1="207.6" y1="1867.9" x2="214.3" y2="1867.9" stroke="#58595B" stroke-width="1.3"/>
<text x="79.1" y="1910.24" font-size="23.5" text-anchor="middle">2</text>
<text x="92.5" y="1910.24" font-size="23.5" text-anchor="middle">6</text>
<text x="105.9" y="1910.24" font-size="23.5" text-anchor="middle">6</text>
<text x="136.2" y="1910.24" font-size="23.5" text-anchor="middle">4</text>
<text x="161.8" y="1910.24" textLength="15" lengthAdjust="spacingAndGlyphs" fill="#00A651" font-size="23">Y</text>
<path d="M240.7 1910.24L240.7 1893.54L239.3 1893.54L234.4 1897.14L234.4 1899.04L238.9 1896.14L238.9 1910.24Z"/>
<line x1="207.6" y1="1896.85" x2="214.3" y2="1896.85" stroke="#58595B" stroke-width="1.3"/>
<text x="79.1" y="1939.47" font-size="23.5" text-anchor="middle">2</text>
<text x="92.5" y="1939.47" font-size="23.5" text-anchor="middle">4</text>
<text x="105.9" y="1939.47" font-size="23.5" text-anchor="middle">8</text>
<text x="136.2" y="1939.47" font-size="23.5" text-anchor="middle">4</text>
<text x="161.8" y="1939.47" textLength="16.5" lengthAdjust="spacingAndGlyphs" font-size="23">N</text>
<text x="238.2" y="1939.47" font-size="23.5" text-anchor="middle" class="d2">2</text>
<line x1="207.6" y1="1926.1" x2="214.3" y2="1926.1" stroke="#58595B" stroke-width="1.3"/>
<text x="79.1" y="1968.7" font-size="23.5" text-anchor="middle">2</text>
<text x="92.5" y="1968.7" font-size="23.5" text-anchor="middle">7</text>
<text x="105.9" y="1968.7" font-size="23.5" text-anchor="middle">7</text>
<text x="136.2" y="1968.7" font-size="23.5" text-anchor="middle" fill="#00A651">3</text>
<text x="161.8" y="1968.7" textLength="28" lengthAdjust="spacingAndGlyphs" font-size="23">nd</text>
<text x="238.2" y="1968.7" font-size="23.5" text-anchor="middle" class="d2">2</text>
<line x1="207.6" y1="1954.65" x2="214.3" y2="1954.65" stroke="#58595B" stroke-width="1.3"/>
<g transform="translate(45.4 1664.8) rotate(-90)">
<text x="-37.25" y="0" font-size="27" textLength="74.5" lengthAdjust="spacingAndGlyphs" xml:space="preserve">Arm 5</text>
</g>
<line x1="56.6" y1="1355.4" x2="56.6" y2="1973.8" stroke="#6D6E71" stroke-width="1.5"/>
<rect x="267.6" y="1360.6" width="955.3" height="27.9" fill="#fff"/>
<rect x="267.6" y="1389.5" width="890.5" height="27.5" fill="#fff"/>
<rect x="267.6" y="1418.4" width="769" height="27.5" fill="#fff"/>
<rect x="267.6" y="1446.9" width="444.5" height="28.4" fill="#fff"/>
<rect x="267.6" y="1476.3" width="376.2" height="27.9" fill="#fff"/>
<rect x="267.6" y="1506.4" width="343.8" height="27.5" fill="#fff"/>
<rect x="267.6" y="1534.4" width="309.7" height="27.6" fill="#fff"/>
<rect x="267.6" y="1564.1" width="288.9" height="27.7" fill="#fff"/>
<rect x="267.6" y="1592.5" width="280.3" height="27.6" fill="#fff"/>
<rect x="267.6" y="1622.2" width="241.1" height="27.6" fill="#fff"/>
<rect x="267.6" y="1650.5" width="232.2" height="28.5" fill="#fff"/>
<rect x="267.6" y="1679.7" width="226" height="28.2" fill="#fff"/>
<rect x="267.6" y="1709.4" width="189.8" height="28.2" fill="#fff"/>
<rect x="267.6" y="1737.7" width="174.4" height="28" fill="#fff"/>
<rect x="267.6" y="1767.2" width="169.1" height="27.5" fill="#fff"/>
<rect x="267.6" y="1795.2" width="142.1" height="29.4" fill="#fff"/>
<rect x="267.6" y="1824.9" width="136.7" height="28" fill="#fff"/>
<rect x="267.6" y="1853.4" width="99.1" height="29" fill="#fff"/>
<rect x="267.6" y="1882.9" width="87.1" height="27.9" fill="#fff"/>
<rect x="267.6" y="1912.3" width="75.4" height="27.6" fill="#fff"/>
<rect x="267.6" y="1940.6" width="58" height="28.1" fill="#fff"/>
<rect x="267.6" y="1361.6" width="27.5" height="25.9" fill="#C6C7C9"/>
<rect x="295.1" y="1361.6" width="492.3" height="25.9" fill="#6DB47E"/>
<rect x="787.4" y="1361.6" width="435.5" height="25.9" fill="#B1428E"/>
<line x1="278.2" y1="1366.8" x2="278.2" y2="1385.7" stroke="#231F20" stroke-width="2.1"/>
<line x1="288.7" y1="1366.8" x2="288.7" y2="1385.7" stroke="#231F20" stroke-width="2.1"/>
<line x1="294" y1="1366.8" x2="294" y2="1385.7" stroke="#231F20" stroke-width="2.1"/>
<line x1="302.8" y1="1366.2" x2="302.8" y2="1386.3" stroke="#fff" stroke-width="2.1"/>
<polyline points="1231.3,1370.35 1244.4,1376.65 1231.3,1382.95" fill="none" stroke="#231F20" stroke-width="2.2"/>
<rect x="267.6" y="1390.5" width="25.9" height="25.5" fill="#C6C7C9"/>
<rect x="293.5" y="1390.5" width="208.35" height="25.5" fill="#6DB47E"/>
<rect x="501.85" y="1390.5" width="656.25" height="25.5" fill="#6088C4"/>
<line x1="283.6" y1="1395.7" x2="283.6" y2="1414.2" stroke="#231F20" stroke-width="2.1"/>
<line x1="288.7" y1="1395.7" x2="288.7" y2="1414.2" stroke="#231F20" stroke-width="2.1"/>
<line x1="294" y1="1395.7" x2="294" y2="1414.2" stroke="#231F20" stroke-width="2.1"/>
<line x1="304" y1="1395.1" x2="304" y2="1414.8" stroke="#fff" stroke-width="2.1"/>
<line x1="558.7" y1="1395.1" x2="558.7" y2="1414.8" stroke="#fff" stroke-width="2.1"/>
<line x1="569.1" y1="1395.1" x2="569.1" y2="1414.8" stroke="#fff" stroke-width="2.1"/>
<line x1="573.9" y1="1395.1" x2="573.9" y2="1414.8" stroke="#fff" stroke-width="2.1"/>
<line x1="579.3" y1="1395.1" x2="579.3" y2="1414.8" stroke="#fff" stroke-width="2.1"/>
<line x1="584.4" y1="1395.1" x2="584.4" y2="1414.8" stroke="#fff" stroke-width="2.1"/>
<line x1="589.4" y1="1395.1" x2="589.4" y2="1414.8" stroke="#fff" stroke-width="2.1"/>
<line x1="594.5" y1="1395.1" x2="594.5" y2="1414.8" stroke="#fff" stroke-width="2.1"/>
<line x1="605" y1="1395.1" x2="605" y2="1414.8" stroke="#fff" stroke-width="2.1"/>
<line x1="609.8" y1="1395.1" x2="609.8" y2="1414.8" stroke="#fff" stroke-width="2.1"/>
<line x1="614.9" y1="1395.1" x2="614.9" y2="1414.8" stroke="#fff" stroke-width="2.1"/>
<line x1="625.3" y1="1395.1" x2="625.3" y2="1414.8" stroke="#fff" stroke-width="2.1"/>
<line x1="630.6" y1="1395.1" x2="630.6" y2="1414.8" stroke="#fff" stroke-width="2.1"/>
<line x1="635.7" y1="1395.1" x2="635.7" y2="1414.8" stroke="#fff" stroke-width="2.1"/>
<line x1="640.8" y1="1395.1" x2="640.8" y2="1414.8" stroke="#fff" stroke-width="2.1"/>
<line x1="651.25" y1="1395.1" x2="651.25" y2="1414.8" stroke="#fff" stroke-width="2.1"/>
<line x1="661.2" y1="1395.1" x2="661.2" y2="1414.8" stroke="#fff" stroke-width="2.1"/>
<polyline points="1167.2,1399.05 1180.5,1405.35 1167.2,1411.65" fill="none" stroke="#231F20" stroke-width="2.2"/>
<rect x="267.6" y="1419.4" width="20.6" height="25.5" fill="#C6C7C9"/>
<rect x="288.2" y="1419.4" width="312.8" height="25.5" fill="#6DB47E"/>
<rect x="601" y="1419.4" width="432.6" height="25.5" fill="#6088C4"/>
<rect x="1033.6" y="1419.4" width="3" height="25.5" fill="#C8102E"/>
<line x1="278.2" y1="1424.6" x2="278.2" y2="1443.1" stroke="#231F20" stroke-width="2.1"/>
<line x1="283.6" y1="1424.6" x2="283.6" y2="1443.1" stroke="#231F20" stroke-width="2.1"/>
<line x1="288.7" y1="1424.6" x2="288.7" y2="1443.1" stroke="#231F20" stroke-width="2.1"/>
<rect x="267.6" y="1447.9" width="22.2" height="26.4" fill="#C6C7C9"/>
<rect x="289.8" y="1447.9" width="418.9" height="26.4" fill="#6088C4"/>
<rect x="708.7" y="1447.9" width="3.4" height="26.4" fill="#C8102E"/>
<line x1="278.2" y1="1453.1" x2="278.2" y2="1472.5" stroke="#231F20" stroke-width="2.1"/>
<line x1="283.6" y1="1453.1" x2="283.6" y2="1472.5" stroke="#231F20" stroke-width="2.1"/>
<line x1="288.7" y1="1453.1" x2="288.7" y2="1472.5" stroke="#231F20" stroke-width="2.1"/>
<rect x="267.6" y="1477.3" width="25.9" height="25.9" fill="#C6C7C9"/>
<rect x="293.5" y="1477.3" width="24.3" height="25.9" fill="#6DB47E"/>
<rect x="317.8" y="1477.3" width="322.6" height="25.9" fill="#6088C4"/>
<rect x="640.4" y="1477.3" width="3.4" height="25.9" fill="#C8102E"/>
<line x1="279.6" y1="1482.5" x2="279.6" y2="1501.4" stroke="#231F20" stroke-width="2.1"/>
<line x1="285.2" y1="1482.5" x2="285.2" y2="1501.4" stroke="#231F20" stroke-width="2.1"/>
<line x1="290.5" y1="1482.5" x2="290.5" y2="1501.4" stroke="#231F20" stroke-width="2.1"/>
<line x1="304" y1="1482.5" x2="304" y2="1501.4" stroke="#231F20" stroke-width="2.1"/>
<line x1="309" y1="1482.5" x2="309" y2="1501.4" stroke="#231F20" stroke-width="2.1"/>
<line x1="319" y1="1482.5" x2="319" y2="1501.4" stroke="#231F20" stroke-width="2.1"/>
<rect x="267.6" y="1507.4" width="22.9" height="25.5" fill="#C6C7C9"/>
<rect x="290.5" y="1507.4" width="37.5" height="25.5" fill="#6DB47E"/>
<rect x="328" y="1507.4" width="280" height="25.5" fill="#6088C4"/>
<rect x="608" y="1507.4" width="3.4" height="25.5" fill="#C8102E"/>
<line x1="279.6" y1="1512.6" x2="279.6" y2="1531.1" stroke="#231F20" stroke-width="2.1"/>
<line x1="285.2" y1="1512.6" x2="285.2" y2="1531.1" stroke="#231F20" stroke-width="2.1"/>
<line x1="290.5" y1="1512.6" x2="290.5" y2="1531.1" stroke="#231F20" stroke-width="2.1"/>
<line x1="306.7" y1="1512.6" x2="306.7" y2="1531.1" stroke="#231F20" stroke-width="2.1"/>
<line x1="312.5" y1="1512.6" x2="312.5" y2="1531.1" stroke="#231F20" stroke-width="2.1"/>
<line x1="317.6" y1="1512.6" x2="317.6" y2="1531.1" stroke="#231F20" stroke-width="2.1"/>
<line x1="322.9" y1="1512.6" x2="322.9" y2="1531.1" stroke="#231F20" stroke-width="2.1"/>
<line x1="328" y1="1512.6" x2="328" y2="1531.1" stroke="#231F20" stroke-width="2.1"/>
<rect x="267.6" y="1535.4" width="22.4" height="25.6" fill="#C6C7C9"/>
<rect x="290" y="1535.4" width="18.9" height="25.6" fill="#6DB47E"/>
<rect x="308.9" y="1535.4" width="265.1" height="25.6" fill="#6088C4"/>
<rect x="574" y="1535.4" width="3.3" height="25.6" fill="#C8102E"/>
<line x1="277.8" y1="1540.6" x2="277.8" y2="1559.2" stroke="#231F20" stroke-width="2.1"/>
<line x1="283.75" y1="1540.6" x2="283.75" y2="1559.2" stroke="#231F20" stroke-width="2.1"/>
<line x1="289.2" y1="1540.6" x2="289.2" y2="1559.2" stroke="#231F20" stroke-width="2.1"/>
<line x1="351.8" y1="1540.6" x2="351.8" y2="1559.2" stroke="#F2E21B" stroke-width="2.1"/>
<line x1="357.2" y1="1540.6" x2="357.2" y2="1559.2" stroke="#F2E21B" stroke-width="2.1"/>
<line x1="360.7" y1="1540.6" x2="360.7" y2="1559.2" stroke="#F2E21B" stroke-width="2.1"/>
<line x1="366.1" y1="1540.6" x2="366.1" y2="1559.2" stroke="#F2E21B" stroke-width="2.1"/>
<line x1="371" y1="1540.6" x2="371" y2="1559.2" stroke="#F2E21B" stroke-width="2.1"/>
<line x1="376.1" y1="1540.6" x2="376.1" y2="1559.2" stroke="#F2E21B" stroke-width="2.1"/>
<line x1="381" y1="1540.6" x2="381" y2="1559.2" stroke="#F2E21B" stroke-width="2.1"/>
<line x1="386.4" y1="1540.6" x2="386.4" y2="1559.2" stroke="#F2E21B" stroke-width="2.1"/>
<line x1="391.8" y1="1540.6" x2="391.8" y2="1559.2" stroke="#F2E21B" stroke-width="2.1"/>
<rect x="267.6" y="1565.1" width="169.5" height="25.7" fill="#C6C7C9"/>
<rect x="437.1" y="1565.1" width="56.5" height="25.7" fill="#6DB47E"/>
<rect x="493.6" y="1565.1" width="59.4" height="25.7" fill="#6088C4"/>
<rect x="553" y="1565.1" width="3.5" height="25.7" fill="#C8102E"/>
<line x1="422" y1="1570.3" x2="422" y2="1589" stroke="#231F20" stroke-width="2.1"/>
<line x1="427.4" y1="1570.3" x2="427.4" y2="1589" stroke="#231F20" stroke-width="2.1"/>
<line x1="437.1" y1="1570.3" x2="437.1" y2="1589" stroke="#231F20" stroke-width="2.1"/>
<text x="570" y="1593.95" class="n" text-anchor="middle" textLength="11.8" lengthAdjust="spacingAndGlyphs" font-size="30">*</text>
<rect x="267.6" y="1593.5" width="21" height="25.6" fill="#C6C7C9"/>
<rect x="288.6" y="1593.5" width="259.3" height="25.6" fill="#6088C4"/>
<line x1="277.8" y1="1598.7" x2="277.8" y2="1617.3" stroke="#231F20" stroke-width="2.1"/>
<line x1="283.75" y1="1598.7" x2="283.75" y2="1617.3" stroke="#231F20" stroke-width="2.1"/>
<line x1="289.2" y1="1598.7" x2="289.2" y2="1617.3" stroke="#231F20" stroke-width="2.1"/>
<line x1="326.4" y1="1598.1" x2="326.4" y2="1617.9" stroke="#fff" stroke-width="2.1"/>
<line x1="331" y1="1598.1" x2="331" y2="1617.9" stroke="#fff" stroke-width="2.1"/>
<polyline points="553,1602.1 566.8,1608.4 553,1614.7" fill="none" stroke="#231F20" stroke-width="2.2"/>
<text x="587.7" y="1619.8" class="n" text-anchor="middle" textLength="25.6" lengthAdjust="spacingAndGlyphs" font-size="30">**</text>
<rect x="267.6" y="1623.2" width="26.4" height="25.6" fill="#C6C7C9"/>
<rect x="294" y="1623.2" width="37.6" height="25.6" fill="#6DB47E"/>
<rect x="331.6" y="1623.2" width="174.1" height="25.6" fill="#6088C4"/>
<rect x="505.7" y="1623.2" width="3" height="25.6" fill="#C8102E"/>
<line x1="283.75" y1="1628.4" x2="283.75" y2="1647" stroke="#231F20" stroke-width="2.1"/>
<line x1="289.2" y1="1628.4" x2="289.2" y2="1647" stroke="#231F20" stroke-width="2.1"/>
<line x1="294" y1="1628.4" x2="294" y2="1647" stroke="#231F20" stroke-width="2.1"/>
<line x1="314.3" y1="1628.4" x2="314.3" y2="1647" stroke="#231F20" stroke-width="2.1"/>
<line x1="319.7" y1="1628.4" x2="319.7" y2="1647" stroke="#231F20" stroke-width="2.1"/>
<line x1="326.2" y1="1628.4" x2="326.2" y2="1647" stroke="#231F20" stroke-width="2.1"/>
<line x1="331.6" y1="1628.4" x2="331.6" y2="1647" stroke="#231F20" stroke-width="2.1"/>
<rect x="267.6" y="1651.5" width="26.4" height="26.5" fill="#C6C7C9"/>
<rect x="294" y="1651.5" width="201.2" height="26.5" fill="#6088C4"/>
<rect x="495.2" y="1651.5" width="4.6" height="26.5" fill="#C8102E"/>
<line x1="283.75" y1="1656.7" x2="283.75" y2="1676.2" stroke="#231F20" stroke-width="2.1"/>
<line x1="289.2" y1="1656.7" x2="289.2" y2="1676.2" stroke="#231F20" stroke-width="2.1"/>
<line x1="294" y1="1656.7" x2="294" y2="1676.2" stroke="#231F20" stroke-width="2.1"/>
<line x1="302.1" y1="1656.7" x2="302.1" y2="1676.2" stroke="#231F20" stroke-width="2.1"/>
<line x1="307.5" y1="1656.7" x2="307.5" y2="1676.2" stroke="#231F20" stroke-width="2.1"/>
<line x1="312.9" y1="1656.7" x2="312.9" y2="1676.2" stroke="#231F20" stroke-width="2.1"/>
<line x1="318.3" y1="1656.7" x2="318.3" y2="1676.2" stroke="#231F20" stroke-width="2.1"/>
<line x1="324.8" y1="1656.7" x2="324.8" y2="1676.2" stroke="#231F20" stroke-width="2.1"/>
<line x1="330.2" y1="1656.7" x2="330.2" y2="1676.2" stroke="#231F20" stroke-width="2.1"/>
<line x1="335" y1="1656.7" x2="335" y2="1676.2" stroke="#231F20" stroke-width="2.1"/>
<line x1="343.7" y1="1656.7" x2="343.7" y2="1676.2" stroke="#231F20" stroke-width="2.1"/>
<line x1="358.8" y1="1656.7" x2="358.8" y2="1676.2" stroke="#231F20" stroke-width="2.1"/>
<line x1="374.2" y1="1656.7" x2="374.2" y2="1676.2" stroke="#231F20" stroke-width="2.1"/>
<line x1="420.1" y1="1656.1" x2="420.1" y2="1676.8" stroke="#fff" stroke-width="2.1"/>
<line x1="435.8" y1="1656.1" x2="435.8" y2="1676.8" stroke="#fff" stroke-width="2.1"/>
<line x1="456" y1="1656.1" x2="456" y2="1676.8" stroke="#fff" stroke-width="2.1"/>
<rect x="267.6" y="1680.7" width="25.6" height="26.2" fill="#C6C7C9"/>
<rect x="293.2" y="1680.7" width="35.1" height="26.2" fill="#6DB47E"/>
<rect x="328.3" y="1680.7" width="162" height="26.2" fill="#6088C4"/>
<rect x="490.3" y="1680.7" width="3.3" height="26.2" fill="#C8102E"/>
<line x1="281.6" y1="1685.9" x2="281.6" y2="1705.1" stroke="#231F20" stroke-width="2.1"/>
<line x1="287" y1="1685.9" x2="287" y2="1705.1" stroke="#231F20" stroke-width="2.1"/>
<line x1="292.4" y1="1685.9" x2="292.4" y2="1705.1" stroke="#231F20" stroke-width="2.1"/>
<line x1="302.1" y1="1685.9" x2="302.1" y2="1705.1" stroke="#231F20" stroke-width="2.1"/>
<line x1="307.5" y1="1685.9" x2="307.5" y2="1705.1" stroke="#231F20" stroke-width="2.1"/>
<line x1="318" y1="1685.9" x2="318" y2="1705.1" stroke="#231F20" stroke-width="2.1"/>
<line x1="322.9" y1="1685.9" x2="322.9" y2="1705.1" stroke="#231F20" stroke-width="2.1"/>
<line x1="328.3" y1="1685.9" x2="328.3" y2="1705.1" stroke="#231F20" stroke-width="2.1"/>
<line x1="363.4" y1="1685.9" x2="363.4" y2="1705.1" stroke="#231F20" stroke-width="2.1"/>
<line x1="368.8" y1="1685.9" x2="368.8" y2="1705.1" stroke="#231F20" stroke-width="2.1"/>
<line x1="374.2" y1="1685.9" x2="374.2" y2="1705.1" stroke="#231F20" stroke-width="2.1"/>
<line x1="379.6" y1="1685.9" x2="379.6" y2="1705.1" stroke="#231F20" stroke-width="2.1"/>
<line x1="385" y1="1685.9" x2="385" y2="1705.1" stroke="#231F20" stroke-width="2.1"/>
<line x1="389.9" y1="1685.9" x2="389.9" y2="1705.1" stroke="#231F20" stroke-width="2.1"/>
<rect x="267.6" y="1710.4" width="38.6" height="26.2" fill="#C6C7C9"/>
<rect x="306.2" y="1710.4" width="28.8" height="26.2" fill="#6DB47E"/>
<rect x="335" y="1710.4" width="117.5" height="26.2" fill="#6088C4"/>
<rect x="452.5" y="1710.4" width="4.9" height="26.2" fill="#C8102E"/>
<line x1="279.7" y1="1715.6" x2="279.7" y2="1734.8" stroke="#231F20" stroke-width="2.1"/>
<line x1="300.5" y1="1715.6" x2="300.5" y2="1734.8" stroke="#231F20" stroke-width="2.1"/>
<line x1="305.9" y1="1715.6" x2="305.9" y2="1734.8" stroke="#231F20" stroke-width="2.1"/>
<line x1="316.2" y1="1715.6" x2="316.2" y2="1734.8" stroke="#231F20" stroke-width="2.1"/>
<line x1="321" y1="1715.6" x2="321" y2="1734.8" stroke="#231F20" stroke-width="2.1"/>
<line x1="326.2" y1="1715.6" x2="326.2" y2="1734.8" stroke="#231F20" stroke-width="2.1"/>
<line x1="331" y1="1715.6" x2="331" y2="1734.8" stroke="#231F20" stroke-width="2.1"/>
<line x1="336.4" y1="1715.6" x2="336.4" y2="1734.8" stroke="#231F20" stroke-width="2.1"/>
<text x="480.2" y="1737" class="n" text-anchor="middle" textLength="26.6" lengthAdjust="spacingAndGlyphs" font-size="30">**</text>
<rect x="267.6" y="1738.7" width="22.5" height="26" fill="#C6C7C9"/>
<rect x="290.1" y="1738.7" width="147" height="26" fill="#6088C4"/>
<rect x="437.1" y="1738.7" width="4.9" height="26" fill="#C8102E"/>
<line x1="279.9" y1="1743.9" x2="279.9" y2="1762.9" stroke="#231F20" stroke-width="2.1"/>
<line x1="285.3" y1="1743.9" x2="285.3" y2="1762.9" stroke="#231F20" stroke-width="2.1"/>
<line x1="290.5" y1="1743.9" x2="290.5" y2="1762.9" stroke="#231F20" stroke-width="2.1"/>
<rect x="267.6" y="1768.2" width="21" height="25.5" fill="#C6C7C9"/>
<rect x="288.6" y="1768.2" width="35.7" height="25.5" fill="#6DB47E"/>
<rect x="324.3" y="1768.2" width="109.5" height="25.5" fill="#6088C4"/>
<rect x="433.8" y="1768.2" width="2.9" height="25.5" fill="#C8102E"/>
<line x1="278.4" y1="1773.4" x2="278.4" y2="1791.9" stroke="#231F20" stroke-width="2.1"/>
<line x1="283.75" y1="1773.4" x2="283.75" y2="1791.9" stroke="#231F20" stroke-width="2.1"/>
<line x1="289.2" y1="1773.4" x2="289.2" y2="1791.9" stroke="#231F20" stroke-width="2.1"/>
<line x1="298.6" y1="1773.4" x2="298.6" y2="1791.9" stroke="#231F20" stroke-width="2.1"/>
<line x1="303" y1="1773.4" x2="303" y2="1791.9" stroke="#231F20" stroke-width="2.1"/>
<line x1="307.9" y1="1773.4" x2="307.9" y2="1791.9" stroke="#231F20" stroke-width="2.1"/>
<line x1="312.7" y1="1773.4" x2="312.7" y2="1791.9" stroke="#231F20" stroke-width="2.1"/>
<line x1="317.5" y1="1773.4" x2="317.5" y2="1791.9" stroke="#231F20" stroke-width="2.1"/>
<line x1="322.9" y1="1773.4" x2="322.9" y2="1791.9" stroke="#231F20" stroke-width="2.1"/>
<rect x="267.6" y="1796.2" width="25.8" height="27.4" fill="#C6C7C9"/>
<rect x="293.4" y="1796.2" width="112.85" height="27.4" fill="#6088C4"/>
<rect x="406.25" y="1796.2" width="3.45" height="27.4" fill="#C8102E"/>
<line x1="279.9" y1="1801.4" x2="279.9" y2="1821.8" stroke="#231F20" stroke-width="2.1"/>
<line x1="285.3" y1="1801.4" x2="285.3" y2="1821.8" stroke="#231F20" stroke-width="2.1"/>
<line x1="290.5" y1="1801.4" x2="290.5" y2="1821.8" stroke="#231F20" stroke-width="2.1"/>
<line x1="304" y1="1800.8" x2="304" y2="1822.4" stroke="#fff" stroke-width="2.1"/>
<line x1="309.2" y1="1800.8" x2="309.2" y2="1822.4" stroke="#fff" stroke-width="2.1"/>
<line x1="314.2" y1="1800.8" x2="314.2" y2="1822.4" stroke="#fff" stroke-width="2.1"/>
<line x1="319.4" y1="1800.8" x2="319.4" y2="1822.4" stroke="#fff" stroke-width="2.1"/>
<line x1="324.7" y1="1800.8" x2="324.7" y2="1822.4" stroke="#fff" stroke-width="2.1"/>
<rect x="267.6" y="1825.9" width="22.5" height="26" fill="#C6C7C9"/>
<rect x="290.1" y="1825.9" width="109.4" height="26" fill="#6088C4"/>
<rect x="399.5" y="1825.9" width="4.8" height="26" fill="#C8102E"/>
<line x1="278.4" y1="1831.1" x2="278.4" y2="1850.1" stroke="#231F20" stroke-width="2.1"/>
<line x1="283.75" y1="1831.1" x2="283.75" y2="1850.1" stroke="#231F20" stroke-width="2.1"/>
<line x1="289.2" y1="1831.1" x2="289.2" y2="1850.1" stroke="#231F20" stroke-width="2.1"/>
<line x1="304" y1="1831.1" x2="304" y2="1850.1" stroke="#231F20" stroke-width="2.1"/>
<line x1="311.15" y1="1831.1" x2="311.15" y2="1850.1" stroke="#231F20" stroke-width="2.1"/>
<line x1="316.2" y1="1831.1" x2="316.2" y2="1850.1" stroke="#231F20" stroke-width="2.1"/>
<line x1="321.4" y1="1831.1" x2="321.4" y2="1850.1" stroke="#231F20" stroke-width="2.1"/>
<line x1="326.6" y1="1831.1" x2="326.6" y2="1850.1" stroke="#231F20" stroke-width="2.1"/>
<line x1="331.6" y1="1831.1" x2="331.6" y2="1850.1" stroke="#231F20" stroke-width="2.1"/>
<line x1="351.7" y1="1831.1" x2="351.7" y2="1850.1" stroke="#231F20" stroke-width="2.1"/>
<line x1="357" y1="1831.1" x2="357" y2="1850.1" stroke="#231F20" stroke-width="2.1"/>
<line x1="362.3" y1="1831.1" x2="362.3" y2="1850.1" stroke="#231F20" stroke-width="2.1"/>
<line x1="367.3" y1="1831.1" x2="367.3" y2="1850.1" stroke="#231F20" stroke-width="2.1"/>
<rect x="267.6" y="1854.4" width="21" height="27" fill="#C6C7C9"/>
<rect x="288.6" y="1854.4" width="75.2" height="27" fill="#6088C4"/>
<rect x="363.8" y="1854.4" width="2.9" height="27" fill="#C8102E"/>
<line x1="278.4" y1="1859.6" x2="278.4" y2="1879.6" stroke="#231F20" stroke-width="2.1"/>
<line x1="283.75" y1="1859.6" x2="283.75" y2="1879.6" stroke="#231F20" stroke-width="2.1"/>
<line x1="289.2" y1="1859.6" x2="289.2" y2="1879.6" stroke="#231F20" stroke-width="2.1"/>
<line x1="298.8" y1="1859" x2="298.8" y2="1880.2" stroke="#fff" stroke-width="2.1"/>
<line x1="304" y1="1859" x2="304" y2="1880.2" stroke="#fff" stroke-width="2.1"/>
<line x1="309.2" y1="1859" x2="309.2" y2="1880.2" stroke="#fff" stroke-width="2.1"/>
<rect x="267.6" y="1883.9" width="21" height="25.9" fill="#C6C7C9"/>
<rect x="288.6" y="1883.9" width="63.1" height="25.9" fill="#6088C4"/>
<rect x="351.7" y="1883.9" width="3" height="25.9" fill="#C8102E"/>
<line x1="276.6" y1="1889.1" x2="276.6" y2="1908" stroke="#231F20" stroke-width="2.1"/>
<line x1="281.8" y1="1889.1" x2="281.8" y2="1908" stroke="#231F20" stroke-width="2.1"/>
<line x1="286.65" y1="1889.1" x2="286.65" y2="1908" stroke="#231F20" stroke-width="2.1"/>
<line x1="297.3" y1="1889.1" x2="297.3" y2="1908" stroke="#231F20" stroke-width="2.1"/>
<line x1="302.7" y1="1889.1" x2="302.7" y2="1908" stroke="#231F20" stroke-width="2.1"/>
<line x1="307.5" y1="1889.1" x2="307.5" y2="1908" stroke="#231F20" stroke-width="2.1"/>
<line x1="312.7" y1="1889.1" x2="312.7" y2="1908" stroke="#231F20" stroke-width="2.1"/>
<line x1="317.9" y1="1889.1" x2="317.9" y2="1908" stroke="#231F20" stroke-width="2.1"/>
<line x1="322.9" y1="1889.1" x2="322.9" y2="1908" stroke="#231F20" stroke-width="2.1"/>
<rect x="267.6" y="1913.3" width="29.7" height="25.6" fill="#C6C7C9"/>
<rect x="297.3" y="1913.3" width="42.6" height="25.6" fill="#6088C4"/>
<rect x="339.9" y="1913.3" width="3.1" height="25.6" fill="#C8102E"/>
<line x1="289" y1="1918.5" x2="289" y2="1937.1" stroke="#231F20" stroke-width="2.1"/>
<line x1="294" y1="1918.5" x2="294" y2="1937.1" stroke="#231F20" stroke-width="2.1"/>
<line x1="298.8" y1="1918.5" x2="298.8" y2="1937.1" stroke="#231F20" stroke-width="2.1"/>
<line x1="307.3" y1="1917.9" x2="307.3" y2="1937.7" stroke="#fff" stroke-width="2.1"/>
<line x1="322.9" y1="1917.9" x2="322.9" y2="1937.7" stroke="#fff" stroke-width="2.1"/>
<rect x="267.6" y="1941.6" width="22.5" height="26.1" fill="#C6C7C9"/>
<rect x="290.1" y="1941.6" width="32.2" height="26.1" fill="#6088C4"/>
<rect x="322.3" y="1941.6" width="3.3" height="26.1" fill="#C8102E"/>
<line x1="278.4" y1="1946.8" x2="278.4" y2="1965.9" stroke="#231F20" stroke-width="2.1"/>
<line x1="283.75" y1="1946.8" x2="283.75" y2="1965.9" stroke="#231F20" stroke-width="2.1"/>
<line x1="289.2" y1="1946.8" x2="289.2" y2="1965.9" stroke="#231F20" stroke-width="2.1"/>
<line x1="299.2" y1="1946.2" x2="299.2" y2="1966.5" stroke="#fff" stroke-width="2.1"/>
<line x1="304.6" y1="1946.2" x2="304.6" y2="1966.5" stroke="#fff" stroke-width="2.1"/>
<line x1="309.4" y1="1946.2" x2="309.4" y2="1966.5" stroke="#fff" stroke-width="2.1"/>
<line x1="314.6" y1="1946.2" x2="314.6" y2="1966.5" stroke="#fff" stroke-width="2.1"/>
<line x1="267.6" y1="1972.9" x2="267.6" y2="1983.1" stroke="#58595B" stroke-width="1.4"/>
<line x1="400.14" y1="1972.9" x2="400.14" y2="1983.1" stroke="#58595B" stroke-width="1.4"/>
<line x1="532.68" y1="1972.9" x2="532.68" y2="1983.1" stroke="#58595B" stroke-width="1.4"/>
<line x1="665.22" y1="1972.9" x2="665.22" y2="1983.1" stroke="#58595B" stroke-width="1.4"/>
<line x1="797.76" y1="1972.9" x2="797.76" y2="1983.1" stroke="#58595B" stroke-width="1.4"/>
<line x1="930.3" y1="1972.9" x2="930.3" y2="1983.1" stroke="#58595B" stroke-width="1.4"/>
<line x1="1062.84" y1="1972.9" x2="1062.84" y2="1983.1" stroke="#58595B" stroke-width="1.4"/>
<line x1="1195.38" y1="1972.9" x2="1195.38" y2="1983.1" stroke="#58595B" stroke-width="1.4"/>
<line x1="1320.7" y1="1972.9" x2="1320.7" y2="1983.1" stroke="#58595B" stroke-width="1.4"/>
<text x="267.8" y="2015.1" font-size="23.5" text-anchor="middle">0</text>
<text x="400.7" y="2015.1" font-size="23.5" text-anchor="middle">6</text>
<path d="M529.1 2015.1L529.1 1998.7L527.7 1998.7L522.8 2002.3L522.8 2004.2L527.3 2001.3L527.3 2015.1Z"/>
<text x="537.9" y="2015.1" font-size="23.5" text-anchor="middle">2</text>
<path d="M663.1 2015.1L663.1 1998.7L661.7 1998.7L656.8 2002.3L656.8 2004.2L661.3 2001.3L661.3 2015.1Z"/>
<text x="671.9" y="2015.1" font-size="23.5" text-anchor="middle">8</text>
<text x="794.1" y="2015.1" font-size="23.5" text-anchor="middle">2</text>
<text x="807.5" y="2015.1" font-size="23.5" text-anchor="middle">4</text>
<text x="927.2" y="2015.1" font-size="23.5" text-anchor="middle">3</text>
<text x="940.7" y="2015.1" font-size="23.5" text-anchor="middle">0</text>
<text x="1060.8" y="2015.1" font-size="23.5" text-anchor="middle">3</text>
<text x="1074.2" y="2015.1" font-size="23.5" text-anchor="middle">6</text>
<text x="1194.3" y="2015.1" font-size="23.5" text-anchor="middle">4</text>
<text x="1207.7" y="2015.1" font-size="23.5" text-anchor="middle">2</text>
<text x="1314" y="2015.1" font-size="23.5" text-anchor="middle">4</text>
<text x="1327.4" y="2015.1" font-size="23.5" text-anchor="middle">8</text>
<text x="772" y="2055.2" text-anchor="middle" textLength="91.6" lengthAdjust="spacingAndGlyphs" font-size="28">Months</text>
<rect x="868.1" y="404.55" width="34.5" height="29.7" fill="#C6C7C9"/>
<text x="914.6" y="431" class="g" textLength="334.4" lengthAdjust="spacingAndGlyphs" font-size="24">Surgery to response evaluation</text>
<rect x="868.1" y="446.41" width="34.5" height="29.7" fill="#6DB47E"/>
<text x="914.6" y="472.86" class="g" textLength="154.9" lengthAdjust="spacingAndGlyphs" font-size="24">Stable disease</text>
<rect x="868.1" y="488.27" width="34.5" height="29.7" fill="#FBD717"/>
<text x="914.6" y="514.72" class="g" textLength="171.2" lengthAdjust="spacingAndGlyphs" font-size="24">Partial response</text>
<rect x="868.1" y="530.13" width="34.5" height="29.7" fill="#B1428E"/>
<text x="914.6" y="556.58" class="g" textLength="30.5" lengthAdjust="spacingAndGlyphs" font-size="24">CR</text>
<rect x="868.1" y="571.99" width="34.5" height="29.7" fill="#6088C4"/>
<rect x="868.1" y="580.04" width="34.5" height="13.1" fill="#FBD717"/>
<text x="914.6" y="598.44" class="g" textLength="252.8" lengthAdjust="spacingAndGlyphs" font-size="24">Partial response on SSP</text>
<rect x="868.1" y="613.85" width="34.5" height="29.7" fill="#6088C4"/>
<rect x="868.1" y="621.9" width="34.5" height="13.1" fill="#B1428E"/>
<text x="914.6" y="640.3" class="g" textLength="292.7" lengthAdjust="spacingAndGlyphs" font-size="24">Complete response on SSP</text>
<rect x="868.1" y="655.71" width="34.5" height="29.7" fill="#6088C4"/>
<text x="914.6" y="682.16" class="g" textLength="264.4" lengthAdjust="spacingAndGlyphs" font-size="24">Survival after progresion</text>
<line x1="886.9" y1="700.22" x2="886.9" y2="724.62" stroke="#231F20" stroke-width="4.3"/>
<text x="914.6" y="724.02" class="g" textLength="220.9" lengthAdjust="spacingAndGlyphs" font-size="24">CAR-T adminstration</text>
<line x1="886.9" y1="742.08" x2="886.9" y2="766.48" stroke="#EDE62A" stroke-width="4.3"/>
<text x="914.6" y="765.88" textLength="385.2" lengthAdjust="spacingAndGlyphs" font-size="24">Additional ICT CAR-T administration</text>
<line x1="886.9" y1="783.94" x2="886.9" y2="808.34" stroke="#fff" stroke-width="4.3"/>
<text x="914.6" y="807.74" class="g" textLength="387" lengthAdjust="spacingAndGlyphs" font-size="24">Additional ICV CAR-T administration</text>
<line x1="886.9" y1="825.8" x2="886.9" y2="850.2" stroke="#F3912F" stroke-width="4.3"/>
<text x="914.6" y="849.6" class="g" textLength="181" lengthAdjust="spacingAndGlyphs" font-size="24">Lost to follow-up</text>
<line x1="886.9" y1="867.66" x2="886.9" y2="892.06" stroke="#C8102E" stroke-width="4.3"/>
<text x="914.6" y="891.46" class="g" textLength="61.7" lengthAdjust="spacingAndGlyphs" font-size="24">Death</text>
<polyline points="874,915.22 890.5,921.72 874,928.22" fill="none" stroke="#231F20" stroke-width="2.2"/>
<text x="914.6" y="933.32" class="g" textLength="196.6" lengthAdjust="spacingAndGlyphs" font-size="24">Survival continues</text>
<text x="886.2" y="977.58" class="n" text-anchor="middle" textLength="11" lengthAdjust="spacingAndGlyphs" font-size="30">*</text>
<text x="914.6" y="975.18" class="g" textLength="273.5" lengthAdjust="spacingAndGlyphs" font-size="24">Not evaluable for survival</text>
<text x="885.3" y="1019.44" class="n" text-anchor="middle" textLength="26" lengthAdjust="spacingAndGlyphs" font-size="30">**</text>
<text x="914.6" y="1017.04" class="g" textLength="358.7" lengthAdjust="spacingAndGlyphs" font-size="24">Not evaluable for dose escalation</text>
<line x1="116.2" y1="2151" x2="116.2" y2="2535" stroke="#E3E4E5" stroke-width="2"/>
<line x1="132.18" y1="2151" x2="132.18" y2="2535" stroke="#E3E4E5" stroke-width="2"/>
<line x1="148.16" y1="2151" x2="148.16" y2="2535" stroke="#E3E4E5" stroke-width="2"/>
<line x1="164.15" y1="2151" x2="164.15" y2="2535" stroke="#E3E4E5" stroke-width="2"/>
<line x1="180.13" y1="2151" x2="180.13" y2="2535" stroke="#E3E4E5" stroke-width="2"/>
<line x1="196.11" y1="2151" x2="196.11" y2="2535" stroke="#E3E4E5" stroke-width="2"/>
<line x1="212.09" y1="2151" x2="212.09" y2="2535" stroke="#E3E4E5" stroke-width="2"/>
<line x1="228.08" y1="2151" x2="228.08" y2="2535" stroke="#E3E4E5" stroke-width="2"/>
<line x1="244.06" y1="2151" x2="244.06" y2="2535" stroke="#E3E4E5" stroke-width="2"/>
<line x1="260.04" y1="2151" x2="260.04" y2="2535" stroke="#E3E4E5" stroke-width="2"/>
<line x1="276.02" y1="2151" x2="276.02" y2="2535" stroke="#E3E4E5" stroke-width="2"/>
<line x1="292.01" y1="2151" x2="292.01" y2="2535" stroke="#E3E4E5" stroke-width="2"/>
<line x1="307.99" y1="2151" x2="307.99" y2="2535" stroke="#E3E4E5" stroke-width="2"/>
<line x1="323.97" y1="2151" x2="323.97" y2="2535" stroke="#E3E4E5" stroke-width="2"/>
<line x1="339.95" y1="2151" x2="339.95" y2="2535" stroke="#E3E4E5" stroke-width="2"/>
<line x1="355.94" y1="2151" x2="355.94" y2="2535" stroke="#E3E4E5" stroke-width="2"/>
<line x1="371.92" y1="2151" x2="371.92" y2="2535" stroke="#E3E4E5" stroke-width="2"/>
<line x1="387.9" y1="2151" x2="387.9" y2="2535" stroke="#E3E4E5" stroke-width="2"/>
<line x1="403.88" y1="2151" x2="403.88" y2="2535" stroke="#E3E4E5" stroke-width="2"/>
<line x1="419.87" y1="2151" x2="419.87" y2="2535" stroke="#E3E4E5" stroke-width="2"/>
<line x1="435.85" y1="2151" x2="435.85" y2="2535" stroke="#E3E4E5" stroke-width="2"/>
<line x1="451.83" y1="2151" x2="451.83" y2="2535" stroke="#E3E4E5" stroke-width="2"/>
<line x1="467.81" y1="2151" x2="467.81" y2="2535" stroke="#E3E4E5" stroke-width="2"/>
<line x1="483.8" y1="2151" x2="483.8" y2="2535" stroke="#E3E4E5" stroke-width="2"/>
<line x1="499.78" y1="2151" x2="499.78" y2="2535" stroke="#E3E4E5" stroke-width="2"/>
<line x1="515.76" y1="2151" x2="515.76" y2="2535" stroke="#E3E4E5" stroke-width="2"/>
<line x1="531.75" y1="2151" x2="531.75" y2="2535" stroke="#E3E4E5" stroke-width="2"/>
<line x1="547.73" y1="2151" x2="547.73" y2="2535" stroke="#E3E4E5" stroke-width="2"/>
<line x1="563.71" y1="2151" x2="563.71" y2="2535" stroke="#E3E4E5" stroke-width="2"/>
<line x1="579.69" y1="2151" x2="579.69" y2="2535" stroke="#E3E4E5" stroke-width="2"/>
<line x1="595.67" y1="2151" x2="595.67" y2="2535" stroke="#E3E4E5" stroke-width="2"/>
<line x1="611.66" y1="2151" x2="611.66" y2="2535" stroke="#E3E4E5" stroke-width="2"/>
<line x1="627.64" y1="2151" x2="627.64" y2="2535" stroke="#E3E4E5" stroke-width="2"/>
<line x1="115.2" y1="2517.6" x2="628.64" y2="2517.6" stroke="#E3E4E5" stroke-width="2"/>
<line x1="115.2" y1="2473.9" x2="628.64" y2="2473.9" stroke="#E3E4E5" stroke-width="2"/>
<line x1="115.2" y1="2430.2" x2="628.64" y2="2430.2" stroke="#E3E4E5" stroke-width="2"/>
<line x1="115.2" y1="2386.5" x2="628.64" y2="2386.5" stroke="#E3E4E5" stroke-width="2"/>
<line x1="115.2" y1="2342.8" x2="628.64" y2="2342.8" stroke="#E3E4E5" stroke-width="2"/>
<line x1="115.2" y1="2299.1" x2="628.64" y2="2299.1" stroke="#E3E4E5" stroke-width="2"/>
<line x1="115.2" y1="2255.4" x2="628.64" y2="2255.4" stroke="#E3E4E5" stroke-width="2"/>
<line x1="115.2" y1="2211.7" x2="628.64" y2="2211.7" stroke="#E3E4E5" stroke-width="2"/>
<line x1="115.2" y1="2168" x2="628.64" y2="2168" stroke="#E3E4E5" stroke-width="2"/>
<line x1="107.6" y1="2170.2" x2="115.2" y2="2170.2" stroke="#58595B" stroke-width="1.5"/>
<path d="M54.25 2177.35L54.25 2160.65L52.85 2160.65L47.95 2164.25L47.95 2166.15L52.45 2163.25L52.45 2177.35Z"/>
<text x="59.95" y="2177.35" font-size="23.5" text-anchor="middle">.</text>
<text x="71.6" y="2177.35" font-size="23.5" text-anchor="middle" textLength="15.3" lengthAdjust="spacingAndGlyphs">0</text>
<text x="87.2" y="2177.35" font-size="23.5" text-anchor="middle" textLength="15.3" lengthAdjust="spacingAndGlyphs">0</text>
<line x1="107.6" y1="2257.05" x2="115.2" y2="2257.05" stroke="#58595B" stroke-width="1.5"/>
<text x="54.3" y="2264.28" font-size="23.5" text-anchor="middle" textLength="15.3" lengthAdjust="spacingAndGlyphs">0</text>
<text x="65.95" y="2264.28" font-size="23.5" text-anchor="middle">.</text>
<text x="76.1" y="2264.28" font-size="23.5" text-anchor="middle">7</text>
<text x="88.7" y="2264.28" font-size="23.5" text-anchor="middle">5</text>
<line x1="107.6" y1="2343.9" x2="115.2" y2="2343.9" stroke="#58595B" stroke-width="1.5"/>
<text x="51.3" y="2351.2" font-size="23.5" text-anchor="middle" textLength="15.3" lengthAdjust="spacingAndGlyphs">0</text>
<text x="62.95" y="2351.2" font-size="23.5" text-anchor="middle">.</text>
<text x="73.1" y="2351.2" font-size="23.5" text-anchor="middle">5</text>
<text x="87.2" y="2351.2" font-size="23.5" text-anchor="middle" textLength="15.3" lengthAdjust="spacingAndGlyphs">0</text>
<line x1="107.6" y1="2430.75" x2="115.2" y2="2430.75" stroke="#58595B" stroke-width="1.5"/>
<text x="54.3" y="2438.12" font-size="23.5" text-anchor="middle" textLength="15.3" lengthAdjust="spacingAndGlyphs">0</text>
<text x="65.95" y="2438.12" font-size="23.5" text-anchor="middle">.</text>
<text x="76.1" y="2438.12" font-size="23.5" text-anchor="middle">2</text>
<text x="88.7" y="2438.12" font-size="23.5" text-anchor="middle">5</text>
<line x1="107.6" y1="2517.6" x2="115.2" y2="2517.6" stroke="#58595B" stroke-width="1.5"/>
<text x="87.2" y="2525.05" font-size="23.5" text-anchor="middle" textLength="15.3" lengthAdjust="spacingAndGlyphs">0</text>
<line x1="116.2" y1="2536.5" x2="116.2" y2="2544.3" stroke="#58595B" stroke-width="1.5"/>
<text x="116.7" y="2575" font-size="23.5" text-anchor="middle" textLength="15.3" lengthAdjust="spacingAndGlyphs">0</text>
<line x1="180.13" y1="2536.5" x2="180.13" y2="2544.3" stroke="#58595B" stroke-width="1.5"/>
<text x="180.63" y="2575" font-size="23.5" text-anchor="middle">6</text>
<line x1="244.06" y1="2536.5" x2="244.06" y2="2544.3" stroke="#58595B" stroke-width="1.5"/>
<path d="M240.76 2575L240.76 2558.3L239.36 2558.3L234.46 2561.9L234.46 2563.8L238.96 2560.9L238.96 2575Z"/>
<text x="248.91" y="2575" font-size="23.5" text-anchor="middle">2</text>
<line x1="307.99" y1="2536.5" x2="307.99" y2="2544.3" stroke="#58595B" stroke-width="1.5"/>
<path d="M304.69 2575L304.69 2558.3L303.29 2558.3L298.39 2561.9L298.39 2563.8L302.89 2560.9L302.89 2575Z"/>
<text x="312.84" y="2575" font-size="23.5" text-anchor="middle">8</text>
<line x1="371.92" y1="2536.5" x2="371.92" y2="2544.3" stroke="#58595B" stroke-width="1.5"/>
<text x="366.12" y="2575" font-size="23.5" text-anchor="middle">2</text>
<text x="378.72" y="2575" font-size="23.5" text-anchor="middle">4</text>
<line x1="435.85" y1="2536.5" x2="435.85" y2="2544.3" stroke="#58595B" stroke-width="1.5"/>
<text x="428.55" y="2575" font-size="23.5" text-anchor="middle">3</text>
<text x="442.65" y="2575" font-size="23.5" text-anchor="middle" textLength="15.3" lengthAdjust="spacingAndGlyphs">0</text>
<line x1="499.78" y1="2536.5" x2="499.78" y2="2544.3" stroke="#58595B" stroke-width="1.5"/>
<text x="493.98" y="2575" font-size="23.5" text-anchor="middle">3</text>
<text x="506.58" y="2575" font-size="23.5" text-anchor="middle">6</text>
<line x1="563.71" y1="2536.5" x2="563.71" y2="2544.3" stroke="#58595B" stroke-width="1.5"/>
<text x="557.91" y="2575" font-size="23.5" text-anchor="middle">4</text>
<text x="570.51" y="2575" font-size="23.5" text-anchor="middle">2</text>
<line x1="627.64" y1="2536.5" x2="627.64" y2="2544.3" stroke="#58595B" stroke-width="1.5"/>
<text x="621.84" y="2575" font-size="23.5" text-anchor="middle">4</text>
<text x="634.44" y="2575" font-size="23.5" text-anchor="middle">8</text>
<text x="372.35" y="2615.1" text-anchor="middle" textLength="92.5" lengthAdjust="spacingAndGlyphs" font-size="28">Months</text>
<text x="22.6" y="2343" font-size="29" text-anchor="middle" transform="rotate(-90 22.6 2343)" textLength="245" lengthAdjust="spacingAndGlyphs">Survival probability</text>
<text x="337.8" y="2180.5" textLength="68.3" lengthAdjust="spacingAndGlyphs" font-size="26.7">rGBM</text>
<text x="263" y="2238.6" font-size="27" textLength="256.13" lengthAdjust="spacingAndGlyphs" xml:space="preserve">Median 7.7 Mo (6.0, </text>
<path d="M527.38 2238.6L527.38 2219.54L525.87 2219.54L520.2 2223.67L520.2 2225.86L525.44 2222.51L525.44 2238.6Z"/>
<text x="530.02" y="2238.6" font-size="27" textLength="23.29" lengthAdjust="spacingAndGlyphs" xml:space="preserve">0.</text>
<path d="M561.56 2238.6L561.56 2219.54L560.05 2219.54L554.38 2223.67L554.38 2225.86L559.62 2222.51L559.62 2238.6Z"/>
<text x="564.2" y="2238.6" font-size="27" textLength="9.3" lengthAdjust="spacingAndGlyphs" xml:space="preserve">)</text>
<text x="64.7" y="2644.7" textLength="192.6" lengthAdjust="spacingAndGlyphs" font-size="28">Number at risk:</text>
<text x="111.65" y="2678.3" font-size="24" text-anchor="middle">4</text>
<path d="M124.8 2678.3L124.8 2661L123.4 2661L118.5 2664.6L118.5 2666.5L123 2663.6L123 2678.3Z"/>
<text x="173.5" y="2678.3" font-size="24" text-anchor="middle">2</text>
<text x="186.1" y="2678.3" font-size="24" text-anchor="middle">5</text>
<text x="244" y="2678.3" font-size="24" text-anchor="middle">8</text>
<text x="308.1" y="2678.3" font-size="24" text-anchor="middle">3</text>
<path d="M374.8 2678.3L374.8 2661L373.4 2661L368.5 2664.6L368.5 2666.5L373 2663.6L373 2678.3Z"/>
<path d="M438.5 2678.3L438.5 2661L437.1 2661L432.2 2664.6L432.2 2666.5L436.7 2663.6L436.7 2678.3Z"/>
<text x="499.3" y="2678.3" font-size="24" text-anchor="middle" textLength="15.3" lengthAdjust="spacingAndGlyphs">0</text>
<text x="563.5" y="2678.3" font-size="24" text-anchor="middle" textLength="15.3" lengthAdjust="spacingAndGlyphs">0</text>
<text x="627.7" y="2678.3" font-size="24" text-anchor="middle" textLength="15.3" lengthAdjust="spacingAndGlyphs">0</text>
<line x1="116.2" y1="2343" x2="197.8" y2="2343" stroke="#231F20" stroke-width="1.7" stroke-dasharray="8.6,12.5"/>
<line x1="197.8" y1="2517.6" x2="197.8" y2="2343" stroke="#231F20" stroke-width="1.7" stroke-dasharray="8.6,12.5"/>
<polyline points="116.25,2168.2 151.7,2168.2 151.7,2178.6 153,2178.6 158.6,2178.6 158.6,2184.2 160.7,2184.2 160.7,2191.1 162.8,2191.1 162.8,2197.35 164.2,2197.35 164.2,2203.6 165.6,2203.6 165.6,2210.6 167,2210.6 167,2216.1 169.7,2216.1 170.4,2223 177.4,2223 177.4,2231.4 178.75,2231.4 178.75,2239.05 180.12,2239.05 180.12,2246.7 181.5,2246.7 182.2,2252.2 185.7,2252.9 186.4,2260.6 196.1,2260.6 196.1,2268.2 196.8,2268.2 196.8,2275.8 197.5,2275.8 197.5,2285.6 200.3,2285.6 200.3,2293.2 201,2293.2 201,2300.8 201.7,2300.8 205.1,2300.8 205.8,2308.5 213.75,2308.75 213.75,2317.8 217.2,2317.8 217.2,2326.1 218.6,2326.1 218.6,2334.4 220,2334.4 223.5,2335.1 223.5,2343.2 224.2,2343.2 224.2,2351.3 224.9,2351.3 224.9,2359.4 225.6,2359.4 225.6,2366.6 226.03,2366.6 226.03,2373.8 226.47,2373.8 226.47,2381 226.9,2381 230.4,2381.7 231.1,2390 245.7,2390 246.4,2400.4 263.75,2400.4 264.4,2410.8 295.7,2410.8 296.4,2421.25 324.9,2421.25 325.6,2431.7 328.3,2431.7 329,2437.9 485.9,2437.9 485.9,2505" fill="none" stroke="#231F20" stroke-width="1.9" stroke-linejoin="miter" stroke-linecap="butt"/>
<polyline points="116.25,2168.5 136,2168.5 136,2180 137,2180 137,2186.25 138.45,2186.25 138.45,2192.5 139.9,2192.5 139.9,2193.9 142.6,2193.9 143.3,2207.8 146.1,2207.8 146.8,2220.3 149.6,2220.3 149.6,2229.3 150.65,2229.3 150.65,2238.3 151.7,2238.3 151.7,2246.65 152.35,2246.65 152.35,2255 153,2255 158.6,2255 159.3,2266.1 159.3,2275.8 162.1,2275.8 162.1,2282.77 162.57,2282.77 162.57,2289.73 163.03,2289.73 163.03,2296.7 163.5,2296.7 163.5,2305 166.25,2305 166.25,2314 167.6,2314 170.4,2314.7 171.1,2323.5 176.25,2323.5 176.25,2331.7 178.3,2331.7 178.3,2341.4 179.35,2341.4 179.35,2351.1 180.4,2351.1 180.4,2359.4 182.5,2359.4 186,2360.1 186.7,2368.5 196.4,2368.5 197.1,2384.4 197.1,2395.6 199.9,2395.6 199.9,2402.18 200.9,2402.18 200.9,2408.75 201.9,2408.75 205.4,2409.4 206.1,2417.1 213.75,2417.1 213.75,2424.7 216.5,2424.7 216.5,2432 217.55,2432 217.55,2439.3 218.6,2439.3 222.1,2440 222.1,2448.3 223.5,2448.3 223.5,2456.87 224.17,2456.87 224.17,2465.43 224.83,2465.43 224.83,2474 225.5,2474 225.5,2481 230.1,2481 245.1,2481 245.1,2486.8 246.3,2486.8 263.7,2487.5 263.7,2494.4 294.9,2494.4 294.9,2503.7 296.1,2503.7 325,2503.7 325,2509.7 326.75,2509.7 326.75,2515.7 328.5,2515.7 485.9,2515.7" fill="none" stroke="#231F20" stroke-width="1.9" stroke-linejoin="miter" stroke-linecap="butt"/>
<polyline points="116.25,2168.3 139.9,2168.3 140.6,2180 140.6,2185.6 144.7,2185.6 144.7,2193.9 146.1,2193.9 146.1,2195.3 151,2195.3 151,2202.25 152,2202.25 152,2209.2 153,2209.2 153,2216.1 154.4,2216.1 154.4,2218.9 158.6,2218.9 158.6,2225.85 159.65,2225.85 159.65,2232.8 160.7,2232.8 160.7,2243.9 164.2,2243.9 164.2,2251.55 164.9,2251.55 164.9,2259.2 165.6,2259.2 165.6,2266.1 168.3,2266.1 168.3,2277.2 171.1,2277.2 171.1,2278.6 177.4,2278.6 177.4,2285.55 178.4,2285.55 178.4,2292.5 179.4,2292.5 179.4,2300.15 180.8,2300.15 180.8,2307.8 182.2,2307.8 182.2,2313.3 185.7,2313.3 185.7,2320.3 187.8,2320.3 187.8,2321.7 196.1,2321.7 196.1,2329.67 196.67,2329.67 196.67,2337.63 197.23,2337.63 197.23,2345.6 197.8,2345.6 197.8,2353.9 199.2,2353.9 199.2,2362.2 200.6,2362.2 200.6,2370.6 204.7,2370.6 204.7,2373.3 213.75,2373.3 213.75,2381.7 215.8,2381.7 215.8,2388.65 217.2,2388.65 217.2,2395.6 218.6,2395.6 218.6,2399.7 223.5,2399.7 223.5,2409.43 224.2,2409.43 224.2,2419.17 224.9,2419.17 224.9,2428.9 225.6,2428.9 225.6,2441.4 228.3,2441.4 228.3,2448.3 231.1,2448.3 244,2448.6 244,2456.7 245.1,2456.7 245.1,2457.9 261.3,2457.9 261.3,2467.1 263.7,2467.1 263.7,2468.3 296.1,2468.3 296.1,2479.9 296.1,2481 325,2481 325,2492.6 327.3,2492.6 327.3,2505.3 329.6,2505.3 485.9,2505.3 485.9,2518.5" fill="none" stroke="#231F20" stroke-width="7.6" stroke-linejoin="round" stroke-linecap="butt"/>
<line x1="245.8" y1="2454.6" x2="262.2" y2="2454.6" stroke="#E8202E" stroke-width="5.6"/>
<line x1="254" y1="2446.2" x2="254" y2="2463" stroke="#E8202E" stroke-width="5.6"/>
<line x1="259.7" y1="2463.6" x2="276.1" y2="2463.6" stroke="#E8202E" stroke-width="5.6"/>
<line x1="267.9" y1="2455.2" x2="267.9" y2="2472" stroke="#E8202E" stroke-width="5.6"/>
<line x1="843" y1="2142" x2="843" y2="2535.3" stroke="#E3E4E5" stroke-width="2"/>
<line x1="858.94" y1="2142" x2="858.94" y2="2535.3" stroke="#E3E4E5" stroke-width="2"/>
<line x1="874.88" y1="2142" x2="874.88" y2="2535.3" stroke="#E3E4E5" stroke-width="2"/>
<line x1="890.82" y1="2142" x2="890.82" y2="2535.3" stroke="#E3E4E5" stroke-width="2"/>
<line x1="906.76" y1="2142" x2="906.76" y2="2535.3" stroke="#E3E4E5" stroke-width="2"/>
<line x1="922.7" y1="2142" x2="922.7" y2="2535.3" stroke="#E3E4E5" stroke-width="2"/>
<line x1="938.64" y1="2142" x2="938.64" y2="2535.3" stroke="#E3E4E5" stroke-width="2"/>
<line x1="954.58" y1="2142" x2="954.58" y2="2535.3" stroke="#E3E4E5" stroke-width="2"/>
<line x1="970.52" y1="2142" x2="970.52" y2="2535.3" stroke="#E3E4E5" stroke-width="2"/>
<line x1="986.46" y1="2142" x2="986.46" y2="2535.3" stroke="#E3E4E5" stroke-width="2"/>
<line x1="1002.4" y1="2142" x2="1002.4" y2="2535.3" stroke="#E3E4E5" stroke-width="2"/>
<line x1="1018.35" y1="2142" x2="1018.35" y2="2535.3" stroke="#E3E4E5" stroke-width="2"/>
<line x1="1034.29" y1="2142" x2="1034.29" y2="2535.3" stroke="#E3E4E5" stroke-width="2"/>
<line x1="1050.23" y1="2142" x2="1050.23" y2="2535.3" stroke="#E3E4E5" stroke-width="2"/>
<line x1="1066.17" y1="2142" x2="1066.17" y2="2535.3" stroke="#E3E4E5" stroke-width="2"/>
<line x1="1082.11" y1="2142" x2="1082.11" y2="2535.3" stroke="#E3E4E5" stroke-width="2"/>
<line x1="1098.05" y1="2142" x2="1098.05" y2="2535.3" stroke="#E3E4E5" stroke-width="2"/>
<line x1="1113.99" y1="2142" x2="1113.99" y2="2535.3" stroke="#E3E4E5" stroke-width="2"/>
<line x1="1129.93" y1="2142" x2="1129.93" y2="2535.3" stroke="#E3E4E5" stroke-width="2"/>
<line x1="1145.87" y1="2142" x2="1145.87" y2="2535.3" stroke="#E3E4E5" stroke-width="2"/>
<line x1="1161.81" y1="2142" x2="1161.81" y2="2535.3" stroke="#E3E4E5" stroke-width="2"/>
<line x1="1177.75" y1="2142" x2="1177.75" y2="2535.3" stroke="#E3E4E5" stroke-width="2"/>
<line x1="1193.69" y1="2142" x2="1193.69" y2="2535.3" stroke="#E3E4E5" stroke-width="2"/>
<line x1="1209.63" y1="2142" x2="1209.63" y2="2535.3" stroke="#E3E4E5" stroke-width="2"/>
<line x1="1225.57" y1="2142" x2="1225.57" y2="2535.3" stroke="#E3E4E5" stroke-width="2"/>
<line x1="1241.51" y1="2142" x2="1241.51" y2="2535.3" stroke="#E3E4E5" stroke-width="2"/>
<line x1="1257.45" y1="2142" x2="1257.45" y2="2535.3" stroke="#E3E4E5" stroke-width="2"/>
<line x1="1273.39" y1="2142" x2="1273.39" y2="2535.3" stroke="#E3E4E5" stroke-width="2"/>
<line x1="1289.33" y1="2142" x2="1289.33" y2="2535.3" stroke="#E3E4E5" stroke-width="2"/>
<line x1="1305.27" y1="2142" x2="1305.27" y2="2535.3" stroke="#E3E4E5" stroke-width="2"/>
<line x1="1321.22" y1="2142" x2="1321.22" y2="2535.3" stroke="#E3E4E5" stroke-width="2"/>
<line x1="1337.16" y1="2142" x2="1337.16" y2="2535.3" stroke="#E3E4E5" stroke-width="2"/>
<line x1="1353.1" y1="2142" x2="1353.1" y2="2535.3" stroke="#E3E4E5" stroke-width="2"/>
<line x1="842" y1="2517.4" x2="1354.1" y2="2517.4" stroke="#E3E4E5" stroke-width="2"/>
<line x1="842" y1="2472.7" x2="1354.1" y2="2472.7" stroke="#E3E4E5" stroke-width="2"/>
<line x1="842" y1="2428" x2="1354.1" y2="2428" stroke="#E3E4E5" stroke-width="2"/>
<line x1="842" y1="2383.3" x2="1354.1" y2="2383.3" stroke="#E3E4E5" stroke-width="2"/>
<line x1="842" y1="2338.6" x2="1354.1" y2="2338.6" stroke="#E3E4E5" stroke-width="2"/>
<line x1="842" y1="2293.9" x2="1354.1" y2="2293.9" stroke="#E3E4E5" stroke-width="2"/>
<line x1="842" y1="2249.2" x2="1354.1" y2="2249.2" stroke="#E3E4E5" stroke-width="2"/>
<line x1="842" y1="2204.5" x2="1354.1" y2="2204.5" stroke="#E3E4E5" stroke-width="2"/>
<line x1="842" y1="2159.8" x2="1354.1" y2="2159.8" stroke="#E3E4E5" stroke-width="2"/>
<line x1="834.4" y1="2161.6" x2="842" y2="2161.6" stroke="#58595B" stroke-width="1.5"/>
<path d="M780.95 2169.65L780.95 2152.95L779.55 2152.95L774.65 2156.55L774.65 2158.45L779.15 2155.55L779.15 2169.65Z"/>
<text x="786.65" y="2169.65" font-size="23.5" text-anchor="middle">.</text>
<text x="798.3" y="2169.65" font-size="23.5" text-anchor="middle" textLength="15.3" lengthAdjust="spacingAndGlyphs">0</text>
<text x="813.9" y="2169.65" font-size="23.5" text-anchor="middle" textLength="15.3" lengthAdjust="spacingAndGlyphs">0</text>
<line x1="834.4" y1="2250.2" x2="842" y2="2250.2" stroke="#58595B" stroke-width="1.5"/>
<text x="781" y="2258.03" font-size="23.5" text-anchor="middle" textLength="15.3" lengthAdjust="spacingAndGlyphs">0</text>
<text x="792.65" y="2258.03" font-size="23.5" text-anchor="middle">.</text>
<text x="802.8" y="2258.03" font-size="23.5" text-anchor="middle">7</text>
<text x="815.4" y="2258.03" font-size="23.5" text-anchor="middle">5</text>
<line x1="834.4" y1="2338.8" x2="842" y2="2338.8" stroke="#58595B" stroke-width="1.5"/>
<text x="778" y="2346.4" font-size="23.5" text-anchor="middle" textLength="15.3" lengthAdjust="spacingAndGlyphs">0</text>
<text x="789.65" y="2346.4" font-size="23.5" text-anchor="middle">.</text>
<text x="799.8" y="2346.4" font-size="23.5" text-anchor="middle">5</text>
<text x="813.9" y="2346.4" font-size="23.5" text-anchor="middle" textLength="15.3" lengthAdjust="spacingAndGlyphs">0</text>
<line x1="834.4" y1="2427.4" x2="842" y2="2427.4" stroke="#58595B" stroke-width="1.5"/>
<text x="781" y="2434.78" font-size="23.5" text-anchor="middle" textLength="15.3" lengthAdjust="spacingAndGlyphs">0</text>
<text x="792.65" y="2434.78" font-size="23.5" text-anchor="middle">.</text>
<text x="802.8" y="2434.78" font-size="23.5" text-anchor="middle">2</text>
<text x="815.4" y="2434.78" font-size="23.5" text-anchor="middle">5</text>
<line x1="834.4" y1="2516" x2="842" y2="2516" stroke="#58595B" stroke-width="1.5"/>
<text x="813.9" y="2523.15" font-size="23.5" text-anchor="middle" textLength="15.3" lengthAdjust="spacingAndGlyphs">0</text>
<line x1="843" y1="2536.2" x2="843" y2="2543.2" stroke="#58595B" stroke-width="1.5"/>
<text x="843.5" y="2575.4" font-size="23.5" text-anchor="middle" textLength="15.3" lengthAdjust="spacingAndGlyphs">0</text>
<line x1="906.76" y1="2536.2" x2="906.76" y2="2543.2" stroke="#58595B" stroke-width="1.5"/>
<text x="907.26" y="2575.4" font-size="23.5" text-anchor="middle">6</text>
<line x1="970.52" y1="2536.2" x2="970.52" y2="2543.2" stroke="#58595B" stroke-width="1.5"/>
<path d="M967.22 2575.4L967.22 2558.7L965.82 2558.7L960.92 2562.3L960.92 2564.2L965.42 2561.3L965.42 2575.4Z"/>
<text x="975.37" y="2575.4" font-size="23.5" text-anchor="middle">2</text>
<line x1="1034.29" y1="2536.2" x2="1034.29" y2="2543.2" stroke="#58595B" stroke-width="1.5"/>
<path d="M1030.99 2575.4L1030.99 2558.7L1029.59 2558.7L1024.69 2562.3L1024.69 2564.2L1029.19 2561.3L1029.19 2575.4Z"/>
<text x="1039.14" y="2575.4" font-size="23.5" text-anchor="middle">8</text>
<line x1="1098.05" y1="2536.2" x2="1098.05" y2="2543.2" stroke="#58595B" stroke-width="1.5"/>
<text x="1092.25" y="2575.4" font-size="23.5" text-anchor="middle">2</text>
<text x="1104.85" y="2575.4" font-size="23.5" text-anchor="middle">4</text>
<line x1="1161.81" y1="2536.2" x2="1161.81" y2="2543.2" stroke="#58595B" stroke-width="1.5"/>
<text x="1154.51" y="2575.4" font-size="23.5" text-anchor="middle">3</text>
<text x="1168.61" y="2575.4" font-size="23.5" text-anchor="middle" textLength="15.3" lengthAdjust="spacingAndGlyphs">0</text>
<line x1="1225.57" y1="2536.2" x2="1225.57" y2="2543.2" stroke="#58595B" stroke-width="1.5"/>
<text x="1219.77" y="2575.4" font-size="23.5" text-anchor="middle">3</text>
<text x="1232.37" y="2575.4" font-size="23.5" text-anchor="middle">6</text>
<line x1="1289.33" y1="2536.2" x2="1289.33" y2="2543.2" stroke="#58595B" stroke-width="1.5"/>
<text x="1283.53" y="2575.4" font-size="23.5" text-anchor="middle">4</text>
<text x="1296.13" y="2575.4" font-size="23.5" text-anchor="middle">2</text>
<line x1="1353.1" y1="2536.2" x2="1353.1" y2="2543.2" stroke="#58595B" stroke-width="1.5"/>
<text x="1347.3" y="2575.4" font-size="23.5" text-anchor="middle">4</text>
<text x="1359.9" y="2575.4" font-size="23.5" text-anchor="middle">8</text>
<text x="1098.5" y="2615.3" text-anchor="middle" textLength="92.5" lengthAdjust="spacingAndGlyphs" font-size="28">Months</text>
<text x="748" y="2338.5" font-size="29" text-anchor="middle" transform="rotate(-90 748 2338.5)" textLength="245" lengthAdjust="spacingAndGlyphs">Survival probability</text>
<text x="1060.9" y="2173.9" textLength="68.8" lengthAdjust="spacingAndGlyphs" font-size="26.3">rGBM</text>
<text x="1068.8" y="2218" font-size="27.3" textLength="73.21" lengthAdjust="spacingAndGlyphs" xml:space="preserve">Arms </text>
<path d="M1150.32 2218L1150.32 2198.73L1148.79 2198.73L1143.06 2202.9L1143.06 2205.11L1148.35 2201.73L1148.35 2218Z"/>
<text x="1152.95" y="2218" font-size="27.3" textLength="109.05" lengthAdjust="spacingAndGlyphs" xml:space="preserve">–4 (Tcm)</text>
<text x="1018.4" y="2252.2" font-size="27.5" textLength="123.25" lengthAdjust="spacingAndGlyphs" xml:space="preserve">Median 6.</text>
<path d="M1149.99 2252.2L1149.99 2232.78L1148.45 2232.78L1142.67 2236.99L1142.67 2239.22L1148.01 2235.81L1148.01 2252.2Z"/>
<text x="1152.6" y="2252.2" font-size="27.5" textLength="166.9" lengthAdjust="spacingAndGlyphs" xml:space="preserve"> Mo (4.8, 9.5)</text>
<text x="1068.8" y="2318" textLength="205.3" lengthAdjust="spacingAndGlyphs" font-size="28">Arm 5 (Tn/mem)</text>
<text x="1018.4" y="2351.9" font-size="27.2" textLength="97.77" lengthAdjust="spacingAndGlyphs" xml:space="preserve">Median </text>
<path d="M1124.36 2351.9L1124.36 2332.7L1122.84 2332.7L1117.12 2336.86L1117.12 2339.06L1122.4 2335.69L1122.4 2351.9Z"/>
<text x="1126.89" y="2351.9" font-size="27.2" textLength="201.61" lengthAdjust="spacingAndGlyphs" xml:space="preserve">0.2 Mo (7.7, NA)</text>
<text x="1239.6" y="2509.4" textLength="15" lengthAdjust="spacingAndGlyphs" font-style="italic" font-size="27">P</text>
<text x="1267.5" y="2509.4" text-anchor="middle" textLength="13" lengthAdjust="spacingAndGlyphs" font-size="27">=</text>
<text x="1282" y="2509.4" textLength="57.2" lengthAdjust="spacingAndGlyphs" font-size="27">0.02</text>
<text x="724" y="2646" textLength="190.8" lengthAdjust="spacingAndGlyphs" font-size="28">Number at risk:</text>
<text x="694.8" y="2678.9" font-size="27" textLength="72.54" lengthAdjust="spacingAndGlyphs" xml:space="preserve">Arms </text>
<path d="M775.57 2678.9L775.57 2659.84L774.06 2659.84L768.39 2663.97L768.39 2666.16L773.62 2662.81L773.62 2678.9Z"/>
<text x="778.18" y="2678.9" font-size="27" textLength="38.62" lengthAdjust="spacingAndGlyphs" xml:space="preserve">–4:</text>
<text x="728.8" y="2710.7" textLength="82.7" lengthAdjust="spacingAndGlyphs" font-size="28">Arm 5:</text>
<text x="837" y="2678.9" font-size="24" text-anchor="middle">2</text>
<text x="849.6" y="2678.9" font-size="24" text-anchor="middle">7</text>
<path d="M903.1 2678.9L903.1 2661.6L901.7 2661.6L896.8 2665.2L896.8 2667.1L901.3 2664.2L901.3 2678.9Z"/>
<text x="911.25" y="2678.9" font-size="24" text-anchor="middle">4</text>
<text x="970.5" y="2678.9" font-size="24" text-anchor="middle">3</text>
<path d="M1036.6 2678.9L1036.6 2661.6L1035.2 2661.6L1030.3 2665.2L1030.3 2667.1L1034.8 2664.2L1034.8 2678.9Z"/>
<text x="1097.7" y="2678.9" font-size="24" text-anchor="middle" textLength="15.3" lengthAdjust="spacingAndGlyphs">0</text>
<text x="1161.3" y="2678.9" font-size="24" text-anchor="middle" textLength="15.3" lengthAdjust="spacingAndGlyphs">0</text>
<text x="1224.9" y="2678.9" font-size="24" text-anchor="middle" textLength="15.3" lengthAdjust="spacingAndGlyphs">0</text>
<text x="1288.5" y="2678.9" font-size="24" text-anchor="middle" textLength="15.3" lengthAdjust="spacingAndGlyphs">0</text>
<text x="1352.2" y="2678.9" font-size="24" text-anchor="middle" textLength="15.3" lengthAdjust="spacingAndGlyphs">0</text>
<path d="M839.5 2710.7L839.5 2693.4L838.1 2693.4L833.2 2697L833.2 2698.9L837.7 2696L837.7 2710.7Z"/>
<text x="847.65" y="2710.7" font-size="24" text-anchor="middle">4</text>
<path d="M905.05 2710.7L905.05 2693.4L903.65 2693.4L898.75 2697L898.75 2698.9L903.25 2696L903.25 2710.7Z"/>
<path d="M913.75 2710.7L913.75 2693.4L912.35 2693.4L907.45 2697L907.45 2698.9L911.95 2696L911.95 2710.7Z"/>
<text x="970.5" y="2710.7" font-size="24" text-anchor="middle">5</text>
<text x="1034.1" y="2710.7" font-size="24" text-anchor="middle">2</text>
<path d="M1100.2 2710.7L1100.2 2693.4L1098.8 2693.4L1093.9 2697L1093.9 2698.9L1098.4 2696L1098.4 2710.7Z"/>
<path d="M1163.8 2710.7L1163.8 2693.4L1162.4 2693.4L1157.5 2697L1157.5 2698.9L1162 2696L1162 2710.7Z"/>
<text x="1224.9" y="2710.7" font-size="24" text-anchor="middle" textLength="15.3" lengthAdjust="spacingAndGlyphs">0</text>
<text x="1288.5" y="2710.7" font-size="24" text-anchor="middle" textLength="15.3" lengthAdjust="spacingAndGlyphs">0</text>
<text x="1352.2" y="2710.7" font-size="24" text-anchor="middle" textLength="15.3" lengthAdjust="spacingAndGlyphs">0</text>
<line x1="843" y1="2338.5" x2="951" y2="2338.5" stroke="#231F20" stroke-width="1.7" stroke-dasharray="8.6,12.5"/>
<line x1="907.8" y1="2517.4" x2="907.8" y2="2338.5" stroke="#231F20" stroke-width="1.7" stroke-dasharray="8.6,12.5"/>
<line x1="951" y1="2517.4" x2="951" y2="2338.5" stroke="#231F20" stroke-width="1.7" stroke-dasharray="8.6,12.5"/>
<polyline points="842.8,2160.1 865.5,2160.1 865.5,2171.7 865.5,2173.2 869.4,2173.2 869.4,2186.3 869.8,2186.3 869.8,2199.4 870.2,2199.4 878.6,2199.4 879.4,2225.7 885.6,2225.7 885.6,2239.6 886.35,2239.6 886.35,2253.5 887.1,2253.5 887.1,2264.3 891,2264.3 891,2279.7 892.5,2279.7 892.5,2290.5 896.4,2290.5 896.4,2304.4 897.2,2304.4 904.1,2304.4 904.1,2318.3 906.4,2318.3 906.4,2337.8 908.5,2337.8 908.5,2345.5 910.9,2345.5 910.9,2357.8 912.4,2357.8 921.7,2358.6 921.7,2370.2 924.75,2370.2 924.75,2384.1 925.88,2384.1 925.88,2398 927,2398 940.2,2398 940.2,2410.3 941.7,2410.3 941.7,2425.7 944.8,2425.7 944.8,2439.6 947.9,2439.6 947.9,2452 950.2,2452 950.2,2464.7 950.98,2464.7 950.98,2477.4 951.75,2477.4 971.8,2477.4 971.8,2489.8 972.6,2489.8 1051,2489.8 1051,2516.8" fill="none" stroke="#EE9779" stroke-width="7.3" stroke-linejoin="round" stroke-linecap="butt"/>
<polyline points="842.8,2160.1 877.9,2160.1 877.9,2184.8 889.4,2184.8 889.4,2210.2 906.7,2210.2 906.7,2236.5 922.6,2236.5 922.6,2262.7 924.9,2262.7 924.9,2287.4 932.3,2287.4 932.3,2312.9 950.2,2312.9 950.2,2337.8 952.5,2337.8 952.5,2362.5 957.2,2362.5 957.2,2390.2 990.3,2390.2 990.3,2421.1 1022,2421.1 1022,2453.5 1055.2,2453.5 1055.2,2485.2 1212,2485.2 1212,2516.5" fill="none" stroke="#0072BC" stroke-width="7.3" stroke-linejoin="round" stroke-linecap="butt"/>
<line x1="972.4" y1="2386.4" x2="988.8" y2="2386.4" stroke="#E8202E" stroke-width="5.6"/>
<line x1="980.6" y1="2378" x2="980.6" y2="2394.8" stroke="#E8202E" stroke-width="5.6"/>
<line x1="986" y1="2487.5" x2="1002.4" y2="2487.5" stroke="#E8202E" stroke-width="5.6"/>
<line x1="994.2" y1="2479.1" x2="994.2" y2="2495.9" stroke="#E8202E" stroke-width="5.6"/>
<rect x="1017.6" y="2204.2" width="41" height="11.3" fill="#EE9779"/>
<rect x="1016.4" y="2299.9" width="40.2" height="12.2" fill="#0072BC"/>
<text x="1" y="2152.7" textLength="23.5" lengthAdjust="spacingAndGlyphs" font-weight="bold" font-size="40" style="stroke:#231F20;stroke-width:1.4px">b</text>
<text x="725.5" y="2152.6" textLength="22" lengthAdjust="spacingAndGlyphs" font-weight="bold" font-size="40" style="stroke:#231F20;stroke-width:1.4px">c</text>
</svg></body></html>
